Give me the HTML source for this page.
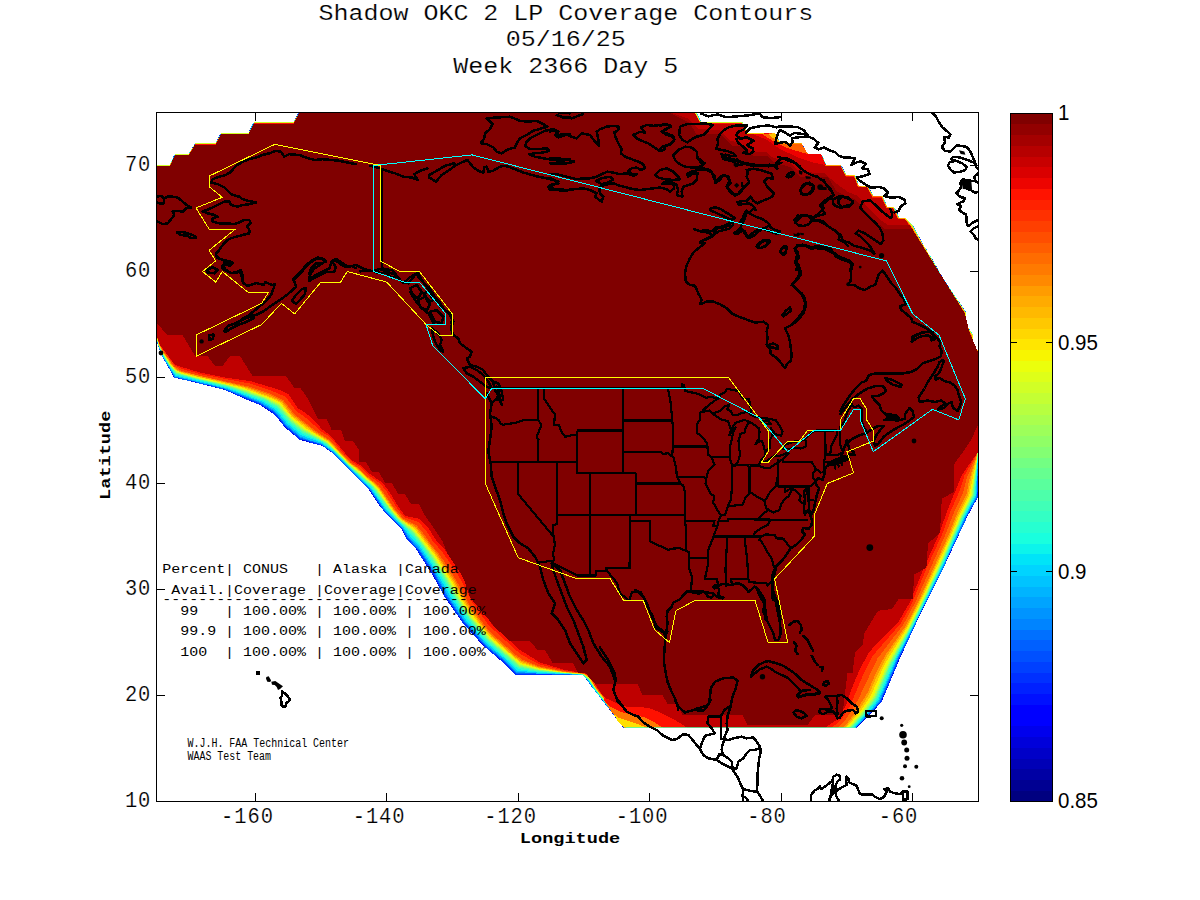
<!DOCTYPE html><html><head><meta charset="utf-8"><title>Shadow OKC 2 LP Coverage Contours</title>
<style>html,body{margin:0;padding:0;background:#fff}svg{display:block}text{font-family:"Liberation Mono","DejaVu Sans Mono",monospace;fill:#000}.s{font-family:"Liberation Sans","DejaVu Sans",sans-serif}</style></head><body>
<svg width="1200" height="900" viewBox="0 0 1200 900">
<rect width="1200" height="900" fill="#fff"/>
<path d="M255.5 801 v-8 M255.5 113 v8 M386.5 801 v-8 M386.5 113 v8 M518.5 801 v-8 M518.5 113 v8 M649.5 801 v-8 M649.5 113 v8 M781.5 801 v-8 M781.5 113 v8 M912.5 801 v-8 M912.5 113 v8 M157 695.5 h8 M978 695.5 h-8 M157 589.5 h8 M978 589.5 h-8 M157 483.5 h8 M978 483.5 h-8 M157 377.5 h8 M978 377.5 h-8 M157 271.5 h8 M978 271.5 h-8 M157 165.5 h8 M978 165.5 h-8 " shape-rendering="crispEdges" stroke="#000" fill="none"/>
<clipPath id="ax"><rect x="156" y="112" width="823" height="690"/></clipPath>
<clipPath id="fc"><rect x="156" y="112" width="823" height="615.8"/></clipPath>
<g clip-path="url(#fc)" shape-rendering="crispEdges">
<path d="M156.0 165.0 L170.0 165.0 L175.0 154.0 L189.0 154.0 L195.0 143.5 L216.0 143.5 L221.0 133.0 L248.5 133.0 L254.0 122.5 L294.0 122.5 L299.0 112.0 L696.0 112.0 L701.0 122.5 L742.5 122.5 L747.5 133.0 L775.0 133.0 L780.0 143.5 L801.5 143.5 L808.0 154.0 L821.0 154.0 L826.0 165.0 L841.0 165.0 L846.5 175.5 L855.0 175.5 L859.0 186.0 L868.0 186.0 L873.0 196.5 L882.5 196.5 L887.5 207.0 L894.0 207.0 L899.0 218.0 L906.0 218.0 L913.0 226.0 L927.5 252.0 L942.5 277.0 L957.5 300.0 L966.0 313.0 L966.0 324.0 L973.0 335.0 L973.0 345.0 L978.0 351.0 L978.0 497.0 L967.6 516.0 L943.6 567.6 L919.5 616.0 L900.5 657.0 L881.6 702.0 L865.0 720.0 L857.5 727.0 L826.0 760.0 L650.0 760.0 L622.7 727.0 L582.7 674.7 L515.0 674.7 L500.0 660.0 L482.5 645.0 L462.5 622.5 L445.0 597.5 L432.5 575.0 L415.0 547.5 L407.0 540.0 L402.0 530.0 L393.0 520.0 L387.0 515.0 L379.0 505.0 L373.0 496.0 L367.0 487.0 L357.0 477.0 L350.0 470.0 L335.0 455.0 L322.5 446.0 L300.0 440.0 L285.0 427.5 L275.0 415.0 L260.0 405.0 L247.5 400.0 L225.0 390.0 L195.0 382.5 L174.0 377.5 L161.0 354.0 L156.0 338.0Z" fill="#0000da"/>
<path d="M825.5 759.7 L702.3 759.5 L651.0 758.5 L626.5 731.5 L609.1 708.5 L601.9 700.5 L595.9 691.5 L591.9 687.5 L586.0 678.5 L582.5 675.2 L515.5 674.5 L500.5 659.6 L492.5 653.6 L486.5 647.6 L485.5 647.6 L462.5 622.5 L458.4 615.5 L455.5 612.5 L451.5 605.5 L444.5 596.5 L432.5 573.5 L419.4 554.5 L418.4 551.5 L406.4 538.5 L402.3 529.5 L383.3 510.5 L369.3 489.5 L331.5 451.8 L320.5 444.7 L317.5 444.7 L316.5 443.7 L313.5 443.7 L305.5 440.6 L299.5 439.5 L283.5 425.6 L279.4 419.5 L272.5 412.5 L258.5 403.6 L256.5 403.6 L248.5 399.6 L246.5 399.6 L239.5 395.7 L237.5 395.7 L230.5 391.7 L228.5 391.7 L222.5 388.8 L219.5 388.8 L214.5 386.8 L211.5 386.8 L210.5 385.8 L199.5 383.8 L194.5 381.8 L187.5 380.8 L186.5 379.8 L182.5 379.8 L177.5 377.8 L174.5 377.8 L161.0 354.5 L155.8 339.5 L155.7 165.5 L156.5 164.7 L169.5 164.7 L171.7 161.5 L173.7 155.5 L175.5 153.7 L188.5 153.7 L195.5 142.7 L215.5 142.7 L219.7 134.5 L221.5 132.7 L248.5 132.7 L252.7 123.5 L254.5 121.7 L293.5 121.7 L297.7 113.5 L299.5 111.7 L694.5 111.7 L697.2 113.5 L701.5 121.7 L742.5 121.8 L747.5 132.7 L774.5 132.7 L776.3 134.5 L780.5 142.7 L801.5 142.7 L806.3 151.5 L808.5 153.7 L820.5 153.7 L822.3 155.5 L824.3 159.5 L824.3 161.5 L826.5 164.7 L840.5 164.7 L842.3 166.5 L846.5 174.7 L854.5 174.7 L855.3 175.5 L857.3 179.5 L858.3 184.5 L859.5 185.7 L867.5 185.7 L869.3 187.5 L873.5 195.7 L882.5 195.7 L887.5 206.7 L893.5 206.7 L895.3 208.5 L899.3 217.5 L905.5 217.7 L913.2 225.5 L924.3 246.5 L926.3 248.5 L928.3 253.5 L930.3 255.5 L943.3 278.5 L966.3 312.5 L966.3 324.5 L973.2 334.5 L973.3 345.5 L978.3 350.5 L977.7 497.5 L965.8 518.5 L965.8 520.5 L945.8 561.5 L945.8 563.5 L915.9 622.5 L915.9 624.5 L898.7 659.5 L896.6 666.5 L890.6 678.5 L890.6 680.5 L888.6 683.5 L888.6 685.5 L885.6 690.5 L885.6 692.5 L882.6 697.5 L881.6 701.5Z" fill="#0030ff" fill-rule="evenodd"/>
<path d="M825.5 759.4 L752.9 759.5 L651.5 756.8 L615.6 717.5 L596.0 691.5 L592.1 687.5 L586.1 678.5 L582.5 675.1 L516.5 673.8 L501.5 659.4 L485.5 646.3 L463.9 622.5 L445.5 595.6 L433.0 572.5 L418.7 550.5 L407.5 538.1 L402.5 529.3 L383.8 510.5 L369.5 489.5 L331.5 451.6 L320.5 444.5 L300.1 438.5 L284.9 425.5 L279.8 418.5 L273.5 412.1 L259.5 403.4 L222.5 388.6 L219.5 388.5 L214.5 386.6 L211.5 386.5 L210.5 385.6 L199.5 383.6 L194.5 381.6 L187.5 380.6 L186.5 379.6 L182.5 379.5 L177.5 377.6 L174.5 377.5 L161.1 354.5 L155.9 339.5 L155.8 165.5 L156.5 164.8 L169.5 164.8 L171.7 161.5 L173.8 155.5 L175.5 153.8 L188.5 153.8 L195.5 142.8 L215.5 142.8 L221.5 132.8 L248.5 132.8 L252.8 123.5 L254.5 121.8 L293.5 121.8 L299.5 111.8 L694.5 111.8 L697.1 113.5 L701.5 121.8 L742.5 121.9 L747.5 132.8 L774.5 132.8 L780.5 142.8 L801.5 142.8 L806.2 151.5 L808.5 153.8 L820.5 153.8 L822.2 155.5 L824.2 159.5 L824.2 161.5 L826.5 164.8 L840.5 164.8 L846.5 174.8 L854.5 174.8 L855.2 175.5 L857.2 179.5 L858.2 184.5 L859.5 185.8 L867.5 185.8 L873.5 195.8 L882.5 195.8 L887.5 206.8 L893.5 206.8 L895.2 208.5 L899.2 217.5 L905.5 217.8 L913.1 225.5 L924.2 246.5 L926.2 248.5 L928.2 253.5 L930.2 255.5 L943.2 278.5 L966.2 312.5 L966.3 324.5 L973.1 334.5 L973.3 345.5 L978.2 350.5 L978.3 452.5 L977.4 497.5 L965.5 518.5 L965.5 520.5 L945.6 561.5 L945.6 563.5 L915.7 622.5 L915.6 624.5 L909.6 635.5 L909.6 637.5 L898.5 659.0 L880.5 701.5 L871.1 712.5 L846.5 737.5 L846.5 738.5Z" fill="#0060ff" fill-rule="evenodd"/>
<path d="M824.5 759.0 L756.5 759.1 L652.5 755.3 L609.7 709.5 L592.2 687.5 L586.3 678.5 L582.5 674.9 L516.5 672.8 L501.6 658.5 L485.8 645.5 L464.5 621.9 L446.6 595.5 L434.0 572.5 L419.5 550.2 L408.1 537.5 L402.7 528.5 L384.8 510.5 L369.6 488.5 L331.9 451.5 L321.5 444.3 L300.5 437.7 L285.5 425.0 L274.2 411.5 L259.5 402.5 L222.5 388.1 L174.5 376.6 L161.3 354.5 L156.0 338.5 L155.9 165.5 L169.5 164.9 L171.8 161.5 L173.9 155.5 L175.5 153.9 L188.5 153.9 L195.5 142.9 L215.5 142.9 L221.5 132.9 L248.5 132.9 L252.9 123.5 L254.5 121.9 L293.5 121.9 L299.5 111.9 L694.5 111.9 L697.0 113.5 L701.5 121.9 L742.5 121.9 L747.5 132.9 L774.5 132.8 L780.5 142.8 L801.5 142.8 L806.2 151.5 L808.5 153.8 L820.5 153.8 L822.2 155.5 L824.2 159.5 L824.2 161.5 L826.5 164.8 L840.5 164.8 L846.5 174.8 L854.5 174.8 L855.2 175.5 L857.2 179.5 L858.2 184.5 L859.5 185.8 L867.5 185.8 L873.5 195.8 L882.5 195.8 L887.5 206.8 L893.5 206.8 L895.2 208.5 L899.2 217.5 L905.5 217.8 L913.0 225.5 L924.2 246.5 L926.1 248.5 L928.2 253.5 L930.2 255.5 L943.2 278.5 L966.1 312.5 L966.2 324.5 L973.1 334.5 L973.2 345.5 L978.2 350.5 L978.2 452.5 L976.9 496.5 L965.5 517.6 L945.0 563.5 L898.0 658.5 L880.3 700.5 L874.8 707.5 L845.5 738.5Z" fill="#0094ff" fill-rule="evenodd"/>
<path d="M823.5 758.5 L756.5 758.6 L678.1 755.5 L653.1 753.5 L639.5 738.9 L620.5 720.8 L609.5 707.8 L605.6 704.5 L586.4 678.5 L582.5 674.8 L536.5 673.5 L516.5 671.7 L502.5 658.1 L486.5 644.9 L465.3 621.5 L458.3 611.5 L447.5 595.0 L434.5 571.5 L418.1 546.5 L409.3 537.5 L403.4 528.5 L385.5 510.5 L370.3 488.5 L332.5 451.3 L321.5 443.7 L310.5 440.6 L300.5 436.5 L286.3 424.5 L274.5 410.6 L259.5 401.7 L226.5 388.8 L175.3 376.5 L161.4 354.5 L156.0 337.5 L156.0 165.5 L169.5 165.0 L171.8 161.5 L174.0 155.5 L175.5 154.0 L188.5 154.0 L195.5 143.0 L215.5 143.0 L221.5 133.0 L248.5 133.0 L253.0 123.5 L254.5 122.0 L293.5 122.0 L299.5 112.0 L694.5 112.0 L697.0 113.5 L701.5 122.0 L742.5 122.0 L747.5 132.9 L774.5 132.9 L780.5 142.9 L801.5 142.9 L806.1 151.5 L808.5 153.9 L820.5 153.9 L822.1 155.5 L824.1 159.5 L824.1 161.5 L826.5 164.9 L840.5 164.9 L846.5 174.9 L855.1 175.5 L857.1 179.5 L858.1 184.5 L859.5 185.9 L867.5 185.9 L873.5 195.9 L882.5 195.9 L887.5 206.9 L893.5 206.9 L895.1 208.5 L899.1 217.5 L905.5 217.9 L912.9 225.5 L924.1 246.5 L926.0 248.5 L928.1 253.5 L930.1 255.5 L943.1 278.5 L966.0 312.5 L966.2 324.5 L973.0 334.5 L973.2 345.5 L978.1 350.5 L978.2 452.5 L976.4 496.5 L964.9 517.5 L944.8 562.5 L897.2 658.5 L879.4 700.5 L874.5 706.8 L844.8 738.5 L825.5 757.7Z" fill="#00c4ff" fill-rule="evenodd"/>
<path d="M812.5 758.5 L756.5 757.9 L678.5 753.4 L654.5 750.9 L641.5 737.5 L617.7 716.5 L602.7 700.5 L592.7 687.5 L589.5 682.0 L582.5 674.7 L540.5 672.9 L517.5 670.6 L503.5 657.4 L485.8 642.5 L466.5 620.7 L452.8 600.5 L435.6 570.5 L418.9 545.5 L410.4 536.5 L403.7 527.5 L385.9 509.5 L370.5 487.6 L332.5 450.5 L321.5 442.7 L301.5 435.4 L287.5 423.7 L275.5 409.5 L262.5 401.8 L226.5 388.0 L175.3 375.5 L161.9 354.5 L156.0 337.5 L156.0 165.5 L169.5 165.0 L175.5 154.0 L188.5 154.0 L195.5 143.0 L215.5 143.0 L221.5 133.0 L248.5 133.0 L254.5 122.0 L293.5 122.0 L299.5 112.0 L694.5 112.0 L696.9 113.5 L700.0 120.5 L701.5 122.0 L742.5 122.1 L747.5 133.0 L774.5 133.0 L780.5 142.9 L801.5 143.0 L806.1 151.5 L808.5 153.9 L820.5 153.9 L822.1 155.5 L824.1 159.5 L824.1 161.5 L826.5 164.9 L840.5 164.9 L846.5 174.9 L855.0 175.5 L857.0 179.5 L858.1 184.5 L859.5 185.9 L867.5 186.0 L873.5 195.9 L882.5 196.0 L887.5 206.9 L893.5 207.0 L895.0 208.5 L899.0 217.5 L905.5 218.0 L912.8 225.5 L924.0 246.5 L926.0 248.5 L928.1 253.5 L930.0 255.5 L943.1 278.5 L966.0 312.5 L966.1 324.5 L972.9 334.5 L973.1 345.5 L978.1 350.5 L978.1 452.5 L975.7 495.5 L964.2 517.5 L943.2 564.5 L908.0 636.5 L896.3 658.5 L878.5 699.8 L873.5 706.5 L844.5 737.8 L824.5 757.5Z" fill="#0cf4eb" fill-rule="evenodd"/>
<path d="M817.5 757.6 L780.5 758.0 L756.5 757.2 L679.5 751.3 L656.5 748.1 L643.0 735.5 L618.5 715.8 L603.4 700.5 L589.5 681.2 L582.5 674.6 L540.5 672.1 L518.5 669.2 L487.5 642.1 L475.9 629.5 L460.6 609.5 L436.8 569.5 L419.9 544.5 L405.1 527.5 L396.5 519.7 L387.2 509.5 L371.7 487.5 L347.9 465.5 L333.5 450.5 L322.5 442.2 L302.5 433.9 L288.5 422.5 L276.5 408.3 L262.9 400.5 L226.5 387.1 L175.8 374.5 L169.6 366.5 L163.0 355.5 L158.4 345.5 L156.1 337.5 L156.1 165.5 L169.5 165.1 L175.5 154.1 L188.5 154.1 L195.5 143.1 L215.5 143.1 L221.5 133.1 L248.5 133.1 L254.5 122.1 L293.5 122.1 L299.5 112.1 L694.5 112.1 L696.8 113.5 L699.9 120.5 L701.5 122.1 L742.5 122.2 L747.5 133.1 L774.5 133.0 L780.5 143.0 L801.5 143.1 L806.0 151.5 L808.5 154.0 L820.5 154.0 L824.0 159.5 L825.0 163.5 L826.5 165.0 L840.5 165.0 L846.5 175.0 L854.9 175.5 L856.9 179.5 L858.0 184.5 L859.5 186.0 L867.5 186.1 L873.5 196.0 L882.5 196.1 L887.5 207.0 L893.5 207.1 L894.9 208.5 L898.9 217.5 L905.5 218.1 L912.7 225.5 L923.9 246.5 L925.9 248.5 L928.0 253.5 L929.9 255.5 L943.0 278.5 L965.9 312.5 L966.1 324.5 L972.8 334.5 L973.1 345.5 L978.0 350.5 L978.1 452.5 L974.8 495.5 L963.5 517.3 L943.4 562.5 L913.8 623.5 L895.7 657.5 L877.3 699.5 L856.7 723.5 L824.5 756.4Z" fill="#33ffc4" fill-rule="evenodd"/>
<path d="M824.2 755.5 L810.5 757.4 L780.5 757.5 L756.5 756.5 L740.5 754.2 L680.5 749.1 L657.5 745.1 L643.5 732.7 L619.5 715.4 L607.5 704.2 L600.5 696.5 L589.5 680.7 L582.5 674.5 L537.5 671.1 L518.5 667.4 L488.5 641.2 L477.0 628.5 L461.8 608.5 L438.5 569.2 L420.8 543.5 L407.6 528.5 L399.5 521.5 L387.6 508.5 L372.5 487.1 L348.5 465.3 L333.5 449.6 L323.0 441.5 L303.4 432.5 L290.5 422.3 L277.5 407.0 L263.9 399.5 L227.5 386.5 L176.5 374.0 L170.2 366.5 L163.3 355.5 L158.5 345.5 L156.2 337.5 L156.2 165.5 L169.5 165.2 L175.5 154.2 L188.5 154.2 L195.5 143.2 L215.5 143.2 L221.5 133.2 L248.5 133.2 L254.5 122.2 L293.5 122.2 L299.5 112.2 L694.5 112.2 L696.7 113.5 L699.8 120.5 L701.5 122.2 L742.5 122.3 L742.8 124.5 L747.5 133.2 L774.5 133.1 L780.5 143.1 L801.5 143.1 L805.9 151.5 L808.5 154.1 L820.5 154.1 L823.9 159.5 L824.9 163.5 L826.5 165.1 L840.5 165.1 L846.5 175.1 L854.9 175.5 L856.9 179.5 L857.9 184.5 L859.5 186.1 L867.5 186.1 L873.5 196.1 L882.5 196.1 L887.5 207.1 L893.5 207.1 L898.9 217.5 L905.5 218.1 L912.7 225.5 L923.9 246.5 L925.8 248.5 L927.9 253.5 L929.9 255.5 L942.9 278.5 L965.8 312.5 L966.0 324.5 L972.7 334.5 L973.0 345.5 L977.9 350.5 L978.0 452.5 L974.0 495.5 L963.1 516.5 L942.2 563.5 L913.1 623.5 L888.8 669.5 L876.5 698.5 L866.4 711.5 L842.5 737.5Z" fill="#5aff9d" fill-rule="evenodd"/>
<path d="M815.5 756.6 L780.5 757.0 L756.5 755.8 L740.5 753.3 L680.5 747.6 L658.5 743.3 L644.5 731.3 L620.5 715.2 L604.5 701.0 L593.2 686.5 L589.5 680.2 L583.0 674.5 L541.5 670.9 L519.5 666.7 L488.2 639.5 L470.1 618.5 L456.2 597.5 L443.7 575.5 L432.1 557.5 L422.1 543.5 L412.5 532.0 L400.5 521.8 L393.7 514.5 L372.9 486.5 L348.5 464.7 L334.1 449.5 L327.2 443.5 L303.5 431.3 L291.2 421.5 L278.5 406.5 L263.9 398.5 L227.5 385.9 L197.5 379.1 L176.5 373.1 L170.7 366.5 L163.6 355.5 L158.7 345.5 L156.2 337.5 L156.2 165.5 L169.5 165.2 L175.5 154.2 L188.5 154.2 L195.5 143.2 L215.5 143.2 L221.5 133.2 L248.5 133.2 L254.5 122.2 L293.5 122.2 L299.5 112.2 L694.5 112.2 L696.6 113.5 L699.8 120.5 L701.5 122.2 L742.5 122.4 L742.8 124.5 L747.5 133.2 L774.5 133.1 L780.5 143.1 L801.5 143.2 L805.9 151.5 L808.5 154.1 L820.5 154.1 L823.9 159.5 L824.9 163.5 L826.5 165.1 L840.5 165.1 L846.5 175.1 L854.8 175.5 L856.8 179.5 L857.9 184.5 L859.5 186.1 L867.5 186.2 L873.5 196.1 L882.5 196.2 L882.9 198.5 L887.5 207.1 L893.5 207.2 L898.8 217.5 L905.5 218.2 L912.6 225.5 L923.8 246.5 L925.7 248.5 L927.9 253.5 L929.8 255.5 L942.9 278.5 L965.7 312.5 L966.0 324.5 L972.6 334.5 L973.0 345.5 L977.9 350.5 L978.0 452.5 L973.2 495.5 L962.3 516.5 L941.6 563.5 L921.8 604.5 L909.9 628.5 L888.2 668.5 L875.5 698.1 L868.6 707.5 L854.8 723.5 L823.5 755.2Z" fill="#83ff73" fill-rule="evenodd"/>
<path d="M808.5 756.5 L780.5 756.5 L757.5 755.1 L681.5 746.5 L659.5 741.8 L643.0 728.5 L620.5 714.5 L604.5 700.7 L593.5 686.5 L588.5 678.5 L583.5 674.5 L537.5 669.9 L519.5 665.7 L488.5 638.7 L470.5 617.6 L463.5 607.5 L444.5 575.0 L433.1 557.5 L413.2 531.5 L401.0 521.5 L394.4 514.5 L373.5 486.4 L348.8 464.5 L327.5 443.1 L304.0 430.5 L291.5 420.6 L278.5 405.2 L264.5 398.0 L228.1 385.5 L197.5 378.7 L176.5 372.5 L171.0 366.5 L163.9 355.5 L158.8 345.5 L156.3 337.5 L156.3 165.5 L169.5 165.3 L175.5 154.3 L188.5 154.3 L195.5 143.3 L215.5 143.3 L221.5 133.3 L248.5 133.3 L254.5 122.3 L293.5 122.3 L299.5 112.3 L694.5 112.3 L696.5 113.5 L699.7 120.5 L701.5 122.3 L742.5 122.5 L742.7 124.5 L747.5 133.3 L774.5 133.2 L780.5 143.2 L801.5 143.3 L805.8 151.5 L808.5 154.2 L820.5 154.2 L823.8 159.5 L824.8 163.5 L826.5 165.2 L840.5 165.2 L846.5 175.2 L854.7 175.5 L856.7 179.5 L857.8 184.5 L859.5 186.2 L867.5 186.3 L873.5 196.2 L882.5 196.3 L882.8 198.5 L887.5 207.2 L893.5 207.3 L898.7 217.5 L899.5 218.2 L905.5 218.3 L912.4 225.5 L923.7 246.5 L925.7 248.5 L927.8 253.5 L929.7 255.5 L942.8 278.5 L965.7 312.5 L965.9 324.5 L972.5 334.5 L972.9 345.5 L977.8 350.5 L977.9 452.5 L972.6 494.5 L961.7 516.5 L941.0 563.5 L920.8 605.5 L905.5 635.5 L890.6 661.5 L874.8 697.5 L865.2 710.5 L851.2 726.5 L823.5 754.3Z" fill="#aaff4d" fill-rule="evenodd"/>
<path d="M814.5 755.6 L780.5 756.0 L756.5 754.2 L684.5 745.7 L660.5 740.2 L644.1 727.5 L620.5 713.6 L604.6 700.5 L595.2 688.5 L588.8 678.5 L583.5 674.3 L562.5 672.8 L538.3 669.5 L519.5 664.6 L489.4 638.5 L471.5 617.5 L464.5 607.5 L445.3 574.5 L433.6 556.5 L413.5 530.5 L397.7 517.5 L389.2 507.5 L377.0 489.5 L373.5 485.7 L349.4 464.5 L327.5 442.5 L304.5 429.7 L292.5 420.3 L279.5 404.9 L268.5 399.0 L247.5 391.0 L228.5 385.1 L197.5 378.2 L177.2 372.5 L171.4 366.5 L164.1 355.5 L159.0 345.5 L156.4 337.5 L156.4 165.5 L169.5 165.4 L175.5 154.4 L188.5 154.4 L195.5 143.4 L215.5 143.4 L221.5 133.4 L248.5 133.4 L254.5 122.4 L293.5 122.4 L299.5 112.4 L694.5 112.4 L696.3 113.5 L699.6 120.5 L701.5 122.4 L742.1 122.5 L747.5 133.4 L774.5 133.3 L778.7 141.5 L780.5 143.3 L801.5 143.3 L805.7 151.5 L808.5 154.3 L820.5 154.3 L823.7 159.5 L824.7 163.5 L826.5 165.3 L840.5 165.3 L844.7 173.5 L846.5 175.3 L854.7 175.5 L856.7 179.5 L857.7 184.5 L859.5 186.3 L867.5 186.3 L873.5 196.3 L882.5 196.3 L882.7 198.5 L887.5 207.3 L893.5 207.3 L898.7 217.5 L899.5 218.3 L905.5 218.3 L912.1 225.5 L942.7 278.5 L965.6 312.5 L965.9 324.5 L972.5 334.9 L972.9 345.5 L977.7 350.5 L977.5 457.1 L971.5 496.0 L961.5 515.5 L940.5 563.2 L920.5 605.1 L908.8 628.5 L886.6 667.5 L874.2 696.5 L860.0 715.5 L841.5 735.7 L823.4 753.5Z" fill="#d1ff26" fill-rule="evenodd"/>
<path d="M822.5 753.1 L809.5 755.5 L780.5 755.5 L756.5 753.5 L685.5 744.6 L660.5 738.5 L644.5 726.0 L626.5 716.8 L618.5 711.5 L604.9 700.5 L595.4 688.5 L589.2 678.5 L583.5 674.2 L562.5 672.5 L541.5 669.5 L520.5 664.2 L489.5 637.5 L472.5 617.3 L464.9 606.5 L451.3 582.5 L434.5 556.3 L414.5 530.3 L398.3 517.5 L389.9 507.5 L376.5 487.9 L357.8 470.5 L349.5 464.1 L327.5 441.9 L305.5 429.3 L292.5 419.0 L279.5 403.7 L268.5 398.0 L242.5 388.6 L181.5 373.5 L175.5 370.4 L170.4 364.5 L161.6 350.5 L158.5 343.7 L156.2 334.5 L156.5 165.5 L169.5 165.5 L175.5 154.5 L188.5 154.5 L195.5 143.5 L215.5 143.5 L221.5 133.5 L248.5 133.5 L254.5 122.5 L293.5 122.5 L299.5 112.5 L694.5 112.5 L696.0 113.5 L700.0 121.5 L701.5 122.5 L741.7 122.5 L747.5 133.4 L774.5 133.3 L778.7 141.5 L780.5 143.3 L801.5 143.4 L805.7 151.5 L808.5 154.3 L820.5 154.3 L823.7 159.5 L824.7 163.5 L826.5 165.3 L840.5 165.3 L844.7 173.5 L846.5 175.3 L854.6 175.5 L857.7 184.5 L859.5 186.3 L867.5 186.4 L871.7 194.5 L873.5 196.3 L882.5 196.4 L882.7 198.5 L887.5 207.3 L893.5 207.4 L898.6 217.5 L899.5 218.3 L905.5 218.4 L911.8 225.5 L942.7 278.5 L965.5 312.5 L965.8 324.5 L972.5 335.5 L972.8 345.5 L977.7 350.5 L977.5 456.5 L970.5 496.2 L960.6 515.5 L940.5 561.6 L919.5 605.8 L908.5 627.6 L888.9 660.5 L872.8 696.5 L862.5 711.1 L848.5 727.4Z" fill="#f8f500" fill-rule="evenodd"/>
<path d="M815.5 753.6 L809.5 754.4 L780.5 754.5 L756.5 752.8 L685.5 743.1 L661.5 736.6 L645.2 724.5 L619.5 711.5 L605.3 700.5 L597.8 691.5 L588.7 677.5 L583.5 674.0 L562.5 672.2 L538.5 668.4 L520.5 662.9 L490.5 637.1 L480.5 625.8 L466.2 606.5 L452.5 582.3 L435.3 555.5 L414.5 528.7 L402.5 520.8 L399.0 517.5 L390.5 507.2 L377.5 487.9 L358.5 470.5 L349.5 463.6 L328.5 442.0 L305.5 427.9 L291.5 416.5 L280.5 403.0 L270.5 397.9 L242.5 387.7 L181.5 372.9 L175.5 369.7 L170.5 364.2 L161.8 350.5 L158.6 343.5 L156.2 334.5 L156.5 165.6 L169.5 165.6 L175.5 154.6 L188.5 154.6 L195.5 143.6 L215.5 143.6 L221.5 133.6 L248.5 133.6 L254.5 122.6 L293.5 122.6 L299.5 112.6 L694.5 112.6 L696.4 114.5 L699.8 121.5 L701.5 122.6 L741.5 122.6 L747.5 133.5 L774.5 133.4 L778.6 141.5 L780.5 143.4 L801.5 143.5 L805.6 151.5 L808.5 154.4 L820.5 154.4 L823.6 159.5 L824.6 163.5 L826.5 165.4 L840.5 165.4 L844.6 173.5 L846.5 175.4 L854.5 175.5 L857.6 184.5 L859.5 186.4 L867.5 186.5 L871.6 194.5 L873.5 196.4 L882.5 196.5 L882.6 198.5 L887.5 207.4 L893.5 207.5 L898.5 217.5 L899.5 218.4 L905.5 218.5 L911.5 225.5 L942.6 278.5 L965.3 312.5 L965.8 324.5 L972.2 335.5 L972.8 345.5 L977.6 350.5 L977.5 455.0 L969.2 495.5 L959.5 514.8 L950.6 536.5 L919.1 604.5 L907.3 627.5 L884.6 664.5 L870.9 695.5 L861.6 709.5 L848.5 725.5 L822.5 751.1Z" fill="#ffc800" fill-rule="evenodd"/>
<path d="M821.5 750.0 L809.5 753.4 L780.5 753.5 L757.5 751.9 L726.5 748.2 L677.8 739.5 L662.5 734.4 L645.5 722.4 L619.3 710.5 L604.7 699.5 L596.0 688.5 L589.4 677.5 L583.5 673.8 L563.5 672.0 L538.5 667.7 L521.5 662.1 L514.0 656.5 L491.5 636.5 L481.7 625.5 L467.0 605.5 L453.6 581.5 L436.1 554.5 L415.5 527.9 L402.0 519.5 L390.9 506.5 L378.2 487.5 L358.5 469.6 L350.1 463.5 L328.5 441.1 L314.2 432.5 L294.5 417.6 L290.5 413.9 L281.8 402.5 L276.8 399.5 L248.5 388.5 L228.5 383.2 L198.5 376.8 L178.5 371.3 L175.5 369.0 L170.5 363.6 L162.1 350.5 L159.5 345.5 L156.3 334.5 L156.5 165.8 L169.5 165.8 L175.5 154.8 L188.5 154.8 L195.5 143.8 L215.5 143.8 L221.5 133.8 L248.5 133.8 L254.5 122.8 L293.5 122.8 L299.5 112.8 L694.5 112.8 L696.2 114.5 L699.5 121.5 L701.5 122.8 L741.5 122.8 L747.5 133.7 L774.5 133.5 L778.6 141.5 L780.5 143.4 L801.2 143.5 L805.6 151.5 L808.5 154.4 L820.5 154.4 L823.6 159.5 L824.6 163.5 L826.5 165.4 L840.5 165.4 L844.6 173.5 L846.5 175.4 L854.5 175.8 L858.5 185.7 L859.5 186.4 L867.5 186.7 L871.6 194.5 L873.5 196.4 L882.2 196.5 L886.6 206.5 L887.5 207.4 L893.5 207.7 L898.3 217.5 L899.5 218.4 L905.2 218.5 L911.2 225.5 L942.6 278.5 L965.0 312.5 L965.7 324.5 L967.6 326.5 L971.9 335.5 L972.7 345.5 L977.6 350.5 L977.7 452.5 L970.7 479.5 L968.0 494.5 L958.1 514.5 L949.5 535.9 L918.0 604.5 L906.5 626.7 L887.4 655.5 L877.6 674.5 L869.0 694.5 L859.5 709.5 L847.5 724.7Z" fill="#ff9c00" fill-rule="evenodd"/>
<path d="M813.5 751.6 L808.5 752.4 L780.5 752.4 L756.5 750.7 L726.5 747.0 L679.5 738.1 L663.5 732.3 L645.5 720.3 L619.5 709.9 L605.1 699.5 L598.3 691.5 L589.9 677.5 L586.5 675.1 L583.5 673.7 L563.5 671.7 L538.5 667.0 L521.5 660.6 L514.5 655.5 L492.1 635.5 L484.7 627.5 L467.8 604.5 L454.6 580.5 L436.9 553.5 L416.5 527.3 L413.5 524.9 L405.5 521.2 L399.9 516.5 L391.9 506.5 L378.4 486.5 L366.5 476.7 L358.5 468.8 L350.5 463.2 L328.5 440.2 L315.5 432.1 L293.5 415.2 L282.5 401.4 L268.5 394.4 L248.5 387.5 L181.5 371.6 L178.6 370.5 L173.5 366.6 L162.3 350.5 L159.0 343.5 L156.3 334.5 L156.5 166.0 L169.5 166.0 L175.5 155.0 L188.5 155.0 L195.5 144.0 L215.5 144.0 L221.5 134.0 L248.5 134.0 L254.5 123.0 L293.5 123.0 L299.5 113.0 L694.5 113.0 L700.5 122.7 L741.5 123.0 L747.5 133.9 L774.5 133.6 L778.4 141.5 L780.4 143.5 L800.5 143.5 L802.5 145.5 L805.5 151.5 L808.4 154.5 L820.5 154.5 L823.5 159.5 L824.5 163.5 L826.4 165.5 L840.5 165.5 L844.5 173.5 L846.4 175.5 L853.5 175.5 L854.5 176.5 L858.5 186.2 L867.5 187.2 L872.5 196.2 L881.5 196.5 L887.4 207.5 L893.5 208.2 L897.8 217.5 L899.5 218.5 L904.5 218.5 L910.8 225.5 L942.5 278.5 L964.7 312.5 L965.7 324.5 L967.5 326.5 L971.7 335.5 L972.7 345.5 L977.5 350.5 L977.7 452.5 L969.0 480.5 L966.5 494.1 L957.0 513.5 L948.5 535.1 L917.5 603.3 L905.5 626.2 L885.1 655.5 L876.1 672.5 L867.5 692.9 L854.6 713.5 L846.5 723.8 L820.8 748.5Z" fill="#ff6c00" fill-rule="evenodd"/>
<path d="M810.5 749.7 L756.5 749.5 L725.5 745.5 L683.5 737.1 L664.5 729.7 L645.5 718.0 L620.5 709.5 L605.5 699.6 L594.5 685.5 L590.4 677.5 L584.5 673.7 L563.5 671.2 L539.5 666.4 L522.4 659.5 L515.4 654.5 L493.0 634.5 L485.6 626.5 L469.5 604.5 L456.4 580.5 L443.5 560.5 L438.0 552.5 L431.5 545.2 L425.2 535.5 L416.8 525.5 L403.2 518.5 L394.5 508.5 L378.7 485.5 L367.4 476.5 L359.4 468.5 L350.5 462.5 L329.5 439.9 L317.5 432.2 L294.5 414.3 L283.5 400.3 L268.5 393.0 L249.5 386.6 L198.6 375.5 L180.8 370.5 L174.3 366.5 L162.5 350.0 L159.1 343.5 L156.4 334.5 L156.5 166.1 L169.5 166.1 L171.1 164.5 L172.5 160.1 L175.5 155.1 L188.5 155.1 L195.5 144.1 L215.5 144.1 L221.5 134.1 L248.5 134.1 L254.5 123.1 L293.5 123.1 L299.5 113.1 L694.5 113.1 L700.5 123.0 L741.5 123.1 L745.9 132.5 L747.5 134.1 L774.5 133.9 L779.5 143.7 L800.5 143.8 L807.5 154.7 L820.5 154.8 L825.5 165.7 L840.5 165.8 L845.5 175.7 L854.2 176.5 L857.3 185.5 L858.5 186.7 L866.5 186.8 L872.5 196.7 L881.5 196.8 L886.3 207.5 L892.5 207.8 L896.2 213.5 L897.3 217.5 L898.5 218.7 L904.5 218.8 L910.5 225.9 L930.3 259.5 L964.3 312.5 L965.6 324.5 L971.5 336.4 L972.6 345.5 L977.2 350.5 L977.6 452.5 L967.0 477.5 L962.8 493.5 L953.9 512.5 L945.5 534.5 L915.2 602.5 L903.4 624.5 L877.5 658.5 L857.7 700.5 L846.5 718.5 L840.3 725.5 L831.6 732.5 L819.5 744.6Z" fill="#ff3f00" fill-rule="evenodd"/>
<path d="M817.5 741.0 L808.5 747.2 L757.5 747.1 L727.5 742.6 L685.5 732.2 L647.5 712.7 L621.5 707.5 L608.5 699.6 L606.5 699.3 L600.9 693.5 L596.8 687.5 L590.5 675.6 L584.5 673.1 L563.5 670.4 L539.5 664.3 L520.9 654.5 L488.9 625.5 L472.5 602.5 L459.5 577.5 L453.5 568.2 L441.5 550.8 L433.8 542.5 L425.3 529.5 L418.5 522.2 L404.5 517.2 L398.7 510.5 L385.9 490.5 L380.2 483.5 L368.5 475.1 L360.5 467.1 L351.5 461.5 L344.5 454.5 L333.9 441.5 L327.5 435.5 L321.0 431.5 L307.5 418.9 L296.5 411.4 L285.5 396.8 L270.5 390.2 L250.5 383.7 L200.5 374.2 L182.5 369.1 L174.9 365.5 L160.5 345.9 L156.4 334.5 L156.5 166.3 L169.5 166.3 L171.3 164.5 L172.5 160.3 L175.5 155.3 L188.5 155.3 L192.3 150.5 L195.5 144.3 L215.5 144.3 L217.3 142.5 L221.5 134.3 L248.5 134.3 L254.5 123.3 L293.5 123.3 L295.3 121.5 L299.5 113.3 L694.5 113.3 L700.5 123.2 L741.5 123.3 L745.7 132.5 L747.5 134.3 L774.5 134.2 L779.5 144.1 L800.5 144.2 L807.5 155.1 L820.5 155.2 L825.5 166.1 L840.5 166.2 L845.5 176.1 L853.8 176.5 L856.9 185.5 L858.5 187.1 L866.5 187.2 L872.5 197.1 L881.5 197.2 L886.5 208.1 L892.5 208.2 L895.8 213.5 L896.9 217.5 L898.5 219.1 L904.5 219.2 L906.9 221.5 L928.8 256.5 L929.9 259.5 L933.8 264.5 L934.9 267.5 L938.8 272.5 L939.9 275.5 L943.8 280.5 L944.9 283.5 L963.9 312.5 L965.6 324.5 L971.8 338.5 L972.6 345.5 L976.8 350.5 L977.6 452.5 L964.5 475.5 L959.3 491.5 L950.4 511.5 L942.5 533.5 L926.9 567.5 L910.9 605.5 L900.6 623.5 L873.0 655.5 L863.3 674.5 L850.2 705.5 L843.5 716.5 L837.5 723.3 L829.5 729.0Z" fill="#ff1300" fill-rule="evenodd"/>
<path d="M156.0 166.0 L170.0 166.0 L175.0 155.0 L189.0 155.0 L195.0 144.5 L216.0 144.5 L221.0 134.0 L248.5 134.0 L254.0 123.5 L294.0 123.5 L299.0 113.0 L695.0 113.0 L700.0 123.5 L742.0 123.5 L747.0 134.0 L774.5 134.0 L779.5 144.5 L801.0 144.5 L807.5 155.0 L820.5 155.0 L825.5 166.0 L840.5 166.0 L846.0 176.5 L854.0 176.5 L858.0 187.0 L867.0 187.0 L872.0 197.5 L881.5 197.5 L886.5 208.0 L893.0 208.0 L898.0 219.0 L905.0 219.0 L964.0 313.0 L968.0 330.5 L977.0 351.0 L978.0 452.0 L962.0 474.7 L948.0 509.0 L938.0 536.7 L924.0 567.6 L910.0 602.0 L898.0 622.7 L884.0 636.5 L876.0 644.0 L868.0 654.0 L859.0 671.0 L852.0 688.0 L846.0 705.0 L838.0 719.0 L826.0 727.0 L808.0 745.0 L760.0 745.0 L730.0 740.0 L687.0 727.5 L680.0 723.0 L673.3 719.0 L665.3 715.0 L656.7 711.0 L648.0 707.7 L634.7 707.0 L622.7 706.3 L613.3 701.7 L604.7 697.7 L600.0 691.7 L595.3 684.3 L591.3 675.5 L583.0 673.0 L565.0 670.0 L540.0 662.5 L520.0 650.0 L492.5 625.0 L475.0 600.0 L462.5 575.0 L445.0 550.0 L436.0 540.0 L429.0 529.0 L420.0 519.0 L405.0 516.0 L398.0 506.0 L390.0 493.0 L383.0 483.0 L370.0 474.0 L360.0 465.0 L350.0 459.0 L345.0 453.0 L336.7 443.0 L331.7 436.7 L321.7 429.0 L315.0 421.0 L305.0 412.5 L297.5 408.0 L288.3 394.0 L280.0 390.0 L250.0 381.0 L225.0 377.5 L200.0 372.5 L175.0 365.0 L160.0 345.0 L156.0 334.0Z" fill="#bf0000"/>
<path d="M156.0 324.0 L157.5 324.0 L167.5 335.0 L182.5 335.0 L195.0 356.0 L207.5 356.0 L215.0 366.0 L222.5 366.0 L230.0 356.0 L240.0 356.0 L252.5 376.0 L286.0 376.0 L294.0 387.5 L300.0 387.5 L307.5 398.0 L318.0 419.0 L326.7 419.0 L331.7 430.0 L341.0 430.0 L345.0 441.0 L353.0 441.0 L359.0 450.0 L359.0 462.0 L366.0 462.0 L372.0 472.0 L379.0 472.0 L385.0 483.0 L392.0 483.0 L398.0 494.0 L405.0 494.0 L411.0 504.0 L419.0 504.0 L424.0 514.0 L435.0 530.0 L442.5 541.0 L447.5 554.0 L460.0 572.5 L465.0 582.5 L470.0 597.5 L485.0 615.0 L495.0 627.5 L510.0 641.0 L530.0 641.0 L537.5 650.0 L545.0 650.0 L552.5 662.5 L572.5 662.5 L577.5 672.5 L585.0 672.5 L595.0 684.0 L637.5 684.0 L642.5 695.0 L662.5 695.0 L667.5 704.0 L677.5 704.0 L682.5 715.0 L742.5 715.0 L747.5 725.0 L807.5 725.0 L815.0 715.0 L842.5 715.0 L847.5 672.5 L852.5 672.5 L855.0 652.5 L862.5 645.0 L864.4 633.0 L878.0 610.7 L892.0 609.0 L898.8 598.6 L912.6 598.6 L914.3 574.5 L926.4 567.6 L928.0 543.6 L940.0 533.0 L941.8 498.8 L953.9 492.0 L953.9 464.4 L964.0 450.6 L971.0 440.0 L978.0 425.0 L978.0 352.0 L969.0 331.0 L965.0 313.5 L912.0 228.5 L884.5 228.5 L876.0 222.0 L869.0 215.0 L855.0 199.0 L848.0 196.7 L836.7 191.7 L828.0 177.0 L800.0 177.0 L790.0 167.0 L773.0 162.0 L768.0 156.0 L754.0 156.0 L740.0 146.0 L732.0 146.0 L720.0 134.0 L696.0 134.0 L690.0 123.0 L670.0 113.0 L299.0 113.0 L294.0 123.5 L254.0 123.5 L248.5 134.0 L221.0 134.0 L216.0 144.5 L195.0 144.5 L189.0 155.0 L175.0 155.0 L170.0 166.0 L156.0 166.0Z" fill="#800000"/>
<path d="M604.7 697.7 L613.3 701.7 L622.7 706.3 L634.7 707.0 L648.0 707.7 L656.7 711.0 L665.3 715.0 L673.3 719.0 L680.0 723.0 L687.0 728.0 L663.5 728.0 L653.3 721.7 L645.3 717.7 L634.7 715.0 L624.0 713.0 L616.0 709.7 L610.7 707.0 L604.0 700.3Z" fill="#ff1000"/>
<path d="M604.0 700.3 L610.7 707.0 L616.0 709.7 L624.0 713.0 L634.7 715.0 L645.3 717.7 L653.3 721.7 L663.5 728.0 L647.5 728.0 L634.7 723.0 L626.7 720.3 L618.7 717.7 L613.3 713.7 L611.0 711.0Z" fill="#ff7800"/>
<path d="M611.0 711.0 L613.3 713.7 L618.7 717.7 L626.7 720.3 L634.7 723.0 L647.5 728.0 L624.5 728.0 L621.3 725.0 L617.3 720.3 L613.0 713.5Z" fill="#ffe000"/>
<path d="M650.0 113.0 L670.0 113.0 L690.0 123.0 L696.0 134.0 L720.0 134.0 L732.0 146.0 L740.0 146.0 L754.0 156.0 L768.0 156.0 L773.0 162.0 L790.0 167.0 L800.0 177.0 L828.0 177.0 L836.7 191.7 L848.0 196.7 L855.0 199.0 L869.0 215.0 L876.0 222.0 L884.5 228.5 L912.0 228.5 L910.0 225.0 L888.0 225.0 L879.0 219.0 L872.0 212.0 L858.0 196.0 L848.0 192.0 L837.0 184.0 L824.0 173.0 L800.0 172.0 L790.0 163.0 L771.0 157.0 L766.0 152.0 L752.0 152.0 L738.0 142.0 L730.0 141.0 L719.0 130.0 L698.0 129.0 L689.0 119.0 L672.0 113.0Z" fill="#9f0000"/>
<path d="M753.0 134.0 L767.0 140.0 L780.0 149.0 L797.0 157.0 L813.0 162.5 L826.0 165.0 L821.0 154.0 L808.0 154.0 L801.5 143.5 L780.0 143.5 L775.0 133.0Z" fill="#ef0000"/>
<path d="M762.0 134.0 L773.0 141.0 L787.0 148.0 L802.0 152.5 L808.0 154.0 L801.5 143.5 L780.0 143.5 L775.0 133.0Z" fill="#ff6000"/>
<path d="M768.0 134.0 L777.0 141.0 L780.0 143.5 L775.0 133.0Z" fill="#ffc000"/>
<path d="M626 727.5H856" stroke="#50ffb0" stroke-width="1" fill="none"/>
</g>
<g clip-path="url(#ax)" fill="none" stroke="#000" stroke-width="2.5" stroke-linejoin="round" stroke-linecap="round" shape-rendering="crispEdges">
<path d="M616.7 700.0 L621.7 705.0 L626.7 711.7 L633.3 715.0 L638.3 716.7 L643.3 722.5 L650.0 726.7 L656.7 730.0 L663.3 735.8 L671.7 740.0 L676.7 739.2 L683.3 734.2 L688.3 735.0 L693.3 740.8 L700.0 749.2 L703.3 755.0 L708.3 758.3 L716.7 760.0 L723.3 764.2 L731.7 768.3 L735.0 773.3 L738.3 778.3 L740.8 785.0 L743.3 789.2 L742.5 795.8 L743.3 800.0"/>
<path d="M745.0 796.7 L747.5 800.0"/>
<path d="M675.0 700.0 L678.3 706.7 L685.0 712.5 L693.3 710.0 L703.3 710.8 L706.7 706.7 L710.0 701.7 L710.8 700.0"/>
<path d="M731.7 700.0 L730.8 705.0 L729.2 710.0 L727.5 716.7 L726.7 723.3 L727.5 730.0 L725.0 735.8 L723.3 739.2 L728.3 740.0 L733.3 738.3 L741.7 736.7 L746.7 738.3 L753.3 737.5 L756.7 741.7 L760.0 746.7 L760.8 751.7 L759.2 758.3 L758.3 766.7 L757.5 775.0 L757.5 783.3 L756.7 790.8 L760.0 795.8 L762.5 800.0"/>
<path d="M720.8 716.7 L708.3 716.7 L707.5 723.3 L711.7 728.3 L714.7 733.3 L705.0 735.8 L701.7 743.3 L700.0 749.2"/>
<path d="M720.8 716.7 L720.8 739.2"/>
<path d="M720.8 716.7 L724.2 710.0 L729.2 706.7"/>
<path d="M724.2 740.0 L722.5 745.0 L721.7 750.0 L723.3 755.0"/>
<path d="M723.3 755.0 L719.2 754.2 L716.7 760.0"/>
<path d="M723.3 755.0 L728.3 758.3 L731.7 761.7 L732.5 767.5"/>
<path d="M732.5 768.3 L736.7 768.3 L738.3 761.7 L743.3 758.3 L746.7 753.3 L750.0 750.0 L755.0 750.0 L759.2 748.3"/>
<path d="M743.3 789.2 L750.0 790.8 L756.7 791.7"/>
<path d="M793.3 712.5 L796.7 710.0 L803.3 712.5 L806.7 715.8 L801.7 718.3 L796.7 716.7 L793.3 712.5"/>
<path d="M796.7 695.0 L801.7 690.8 L810.0 690.0"/>
<path d="M818.3 690.0 L820.0 693.3 L813.3 695.0 L806.7 694.2 L798.3 697.5 L796.7 695.0"/>
<path d="M825.0 696.7 L830.0 695.8 L836.7 695.8 L841.7 695.0 L846.7 698.3 L851.7 703.3 L856.7 706.7 L858.3 711.7 L855.8 713.3 L853.3 710.0 L846.7 710.8 L843.3 712.5 L840.0 717.5 L837.5 718.3 L835.8 714.2 L833.3 711.7 L828.3 711.7 L823.3 714.2 L819.2 712.5 L820.0 709.2 L825.0 709.2 L830.0 710.0 L831.7 707.5 L830.0 703.3 L828.3 700.0 L825.0 696.7"/>
<path d="M836.7 695.8 L837.5 701.7 L836.7 708.3 L837.5 714.2"/>
<path d="M865.8 710.8 L875.8 710.8 L875.8 715.8 L866.7 716.7 L865.8 710.8"/>
<path d="M810.8 800.8 L811.3 795.0 L814.2 790.8 L818.3 788.3 L820.0 785.8 L820.8 789.2 L825.0 786.7 L829.2 783.3 L832.5 780.8 L833.3 776.7 L836.7 774.7 L840.0 775.8 L840.3 779.2 L837.5 781.3 L835.8 785.0 L834.2 788.3 L833.3 793.3 L830.0 796.7 L829.2 800.8"/>
<path d="M835.8 785.8 L836.7 790.0 L835.8 795.0 L837.5 798.3 L839.2 800.8"/>
<path d="M833.3 780.8 L831.7 790.0 L830.0 800.0"/>
<path d="M837.5 790.0 L841.7 787.5 L846.7 785.0 L845.8 780.0 L846.7 776.7 L848.7 779.2 L849.2 782.5 L853.3 784.2 L856.7 785.8 L858.3 790.0 L860.0 794.2 L865.0 794.7 L871.7 794.2 L875.0 796.7 L880.0 799.2 L884.2 796.7 L886.7 791.7 L884.2 789.2 L888.3 788.3 L890.0 791.7 L895.0 793.3 L900.0 794.2 L902.5 792.5"/>
<path d="M902.5 791.7 L907.5 791.7 L907.5 799.2 L903.3 800.0 L902.5 791.7"/>
<path d="M723.3 597.5 L716.7 596.7 L713.3 593.3 L706.7 592.5 L700.0 591.7 L693.3 590.8 L686.7 591.7 L683.3 595.0 L680.0 599.2 L673.3 602.5 L671.7 606.7 L667.5 610.8 L666.7 616.7 L667.5 623.3 L666.7 630.0 L665.8 637.5 L665.0 643.3 L664.2 653.3 L664.2 663.3 L665.8 673.3 L667.5 681.7 L670.8 690.0 L674.2 696.7 L677.5 705.0 L678.3 710.0"/>
<path d="M665.8 637.5 L663.3 631.7 L656.7 625.8 L653.3 620.0 L650.0 611.7 L646.7 603.3 L643.3 596.7 L638.3 591.7 L635.0 590.0"/>
<path d="M600.0 647.5 L605.0 655.0 L610.0 663.3 L614.2 671.7 L615.8 680.0 L613.3 690.0 L616.7 698.3 L621.7 705.0 L625.0 710.0"/>
<path d="M695.0 709.2 L703.3 706.7 L708.3 705.0 L710.0 696.7 L710.8 688.3 L715.0 681.7 L723.3 678.3 L733.3 677.5 L737.5 680.8 L735.8 688.3 L732.5 696.7 L730.8 705.0 L730.0 710.0"/>
<path d="M750.8 676.7 L753.3 670.0 L758.3 665.0 L765.0 661.7 L770.0 660.8"/>
<path d="M750.8 676.7 L755.0 673.3 L760.0 669.2 L766.7 666.7 L770.0 668.3"/>
<path d="M757.5 590.0 L760.0 596.7 L764.2 603.3 L765.8 611.7 L766.7 620.0 L770.0 626.7 L773.3 633.3 L775.0 640.0 L778.3 640.0 L780.8 633.3 L780.0 623.3 L778.3 615.0 L776.7 606.7 L775.0 598.3 L772.5 590.0"/>
<path d="M789.2 625.0 L793.3 621.7 L797.5 620.8 L800.8 625.0 L801.7 630.0 L800.0 632.5"/>
<path d="M794.2 642.5 L796.7 645.8 L795.0 650.0 L797.5 654.2"/>
<path d="M803.3 635.8 L807.5 640.0 L810.8 646.7 L813.3 650.8"/>
<path d="M811.7 655.8 L815.0 661.7 L817.5 665.0"/>
<path d="M820.0 666.7 L823.3 667.5 L821.7 670.8"/>
<path d="M824.2 682.5 L827.5 680.8 L829.2 683.3 L825.8 685.8 L823.3 685.0 L824.2 682.5"/>
<path d="M770.0 661.7 L776.7 663.3 L783.3 665.8 L790.0 670.0 L796.7 675.0 L801.7 680.0 L808.3 684.2 L815.0 688.3 L820.0 691.7"/>
<path d="M770.0 668.0 L775.0 671.7 L781.7 675.0 L788.3 678.3 L793.3 683.3 L798.3 688.3 L800.8 691.7 L797.5 695.8 L803.3 695.8 L811.7 694.2 L818.3 693.3 L820.0 691.7"/>
<path d="M931.7 112.7 L935.6 115.8 L938.7 122.0 L942.6 127.4 L947.2 131.3 L950.3 134.4 L948.8 137.5 L944.1 136.8 L944.9 142.2 L941.8 146.9 L944.9 150.8 L950.3 151.5 L953.4 148.4 L956.5 145.3 L962.0 146.1 L966.7 146.9 L969.8 150.8 L972.1 155.4 L974.4 160.9 L975.2 163.2 L969.8 160.9 L963.5 158.5 L957.3 157.0 L952.7 157.0 L951.1 159.3 L956.5 160.9 L962.0 163.2 L966.7 167.1 L965.1 170.2 L960.4 171.8 L954.2 172.5 L950.3 169.4 L948.0 165.5 L949.5 162.4 L953.4 161.7"/>
<path d="M975.2 163.2 L976.0 167.1 L978.3 168.7"/>
<path d="M978.3 173.3 L974.4 176.4 L975.2 181.1 L978.3 182.7"/>
<path d="M972.9 181.1 L968.2 180.3 L962.8 179.5 L960.4 182.7 L961.2 187.3 L958.9 190.4 L956.5 192.8 L958.9 195.9 L962.0 197.4 L965.1 198.2 L963.5 201.3 L959.7 202.9 L957.3 204.4 L961.2 206.0 L958.9 209.9 L962.0 212.2 L965.9 214.5 L966.7 218.4 L966.7 223.1 L968.2 226.2 L972.1 223.1 L976.0 220.8 L978.3 220.0"/>
<path d="M978.3 226.2 L973.7 228.5 L970.5 231.6 L973.7 234.7 L976.0 238.6 L978.3 240.2"/>
<path d="M966.7 188.9 L971.3 190.4 L975.2 192.8 L978.3 192.0"/>
<path d="M701.0 113.5 L708.3 116.3 L717.5 114.4 L726.7 117.2 L737.7 116.3 L748.7 115.3 L759.7 113.5 L762.4 117.2 L770.7 118.1 L779.8 117.2"/>
<path d="M745.9 132.8 L750.5 128.2 L759.7 126.3 L768.8 125.4 L776.2 127.3 L779.8 126.3 L789.0 126.3 L798.2 127.3 L803.7 130.0 L807.3 134.6 L800.0 133.7 L794.5 132.8 L789.9 135.5 L785.3 132.8 L779.8 130.0 L778.0 133.7 L776.2 139.2 L775.3 143.8 L779.8 142.8 L785.3 141.9 L789.9 145.6 L792.7 141.9 L791.8 138.3 L798.2 137.3 L807.3 136.4 L812.8 138.3 L818.3 142.8 L814.7 147.4 L818.3 149.3 L823.8 147.4 L829.3 150.2 L834.8 152.0 L838.5 155.7 L844.0 157.5 L849.5 157.5 L855.0 158.4 L851.3 164.8 L855.0 163.0 L860.5 161.2 L866.0 163.9 L862.3 168.5 L867.8 169.4 L869.7 174.0 L864.2 175.8 L856.8 177.7 L860.5 181.3 L866.0 185.0 L871.5 187.8 L878.8 186.8 L884.3 188.7 L888.0 192.3 L884.3 196.0 L891.7 197.8 L899.0 196.9 L904.5 199.7 L905.4 203.3 L900.8 206.1 L899.0 210.7 L894.4 212.5"/>
<path d="M772.9 600.0 L772.0 591.1 L772.9 580.4 L774.7 573.3 L776.4 566.2 L781.8 560.9 L787.1 553.8 L790.7 548.4 L796.0 544.9 L801.3 539.6 L804.9 534.2 L802.2 531.6 L803.1 528.0 L808.4 528.9 L811.6 525.3 L812.0 520.0 L810.2 514.7 L807.6 510.2 L804.9 514.7 L804.0 507.6 L804.9 498.7 L804.0 491.6 L806.7 488.0 L807.6 493.3 L808.8 502.2 L809.3 511.1 L811.1 514.7 L813.8 509.3 L815.6 500.4 L817.3 493.3 L819.1 488.0 L816.4 485.3 L815.6 480.9 L818.2 478.2 L822.7 480.0 L824.4 474.7 L825.3 468.4 L827.1 465.8 L830.7 464.9 L835.1 464.0 L844.0 461.0 L849.3 458.7 L842.2 459.9 L836.9 461.0 L828.0 463.1 L836.9 459.2 L842.2 457.4 L844.9 456.0 L846.1 458.7 L849.3 454.2 L854.7 455.1 L852.9 450.7 L849.3 449.8 L848.4 445.3 L845.8 441.8 L846.7 440.0"/>
<path d="M840.5 411.0 L843.5 405.0 L849.5 396.0 L855.5 388.5 L861.5 382.5 L866.0 381.0 L869.0 375.0 L875.0 373.5 L884.0 373.5 L893.0 373.5 L902.0 373.5 L911.0 372.0 L917.0 369.0 L923.0 363.0 L930.5 360.7 L936.5 358.5 L941.0 356.2 L941.7 351.0 L939.5 346.5 L940.2 342.0 L936.5 337.5 L932.0 333.7 L929.0 331.5 L923.0 332.2 L917.0 334.5 L912.5 336.7 L911.7 342.0 L915.5 339.0 L920.0 336.7 L927.5 335.2 L932.0 337.5 L931.2 340.5 L935.0 339.0 L933.5 334.5 L932.0 330.0"/>
<path d="M942.5 360.0 L939.5 362.2 L937.2 367.5 L933.5 373.5 L930.5 378.0 L927.5 382.5 L924.5 388.5 L921.5 393.0 L918.5 397.5 L920.0 402.0 L927.5 400.5 L935.0 402.0 L941.0 400.5 L945.5 403.5 L941.0 406.5 L938.0 409.5 L944.0 408.0 L948.5 403.5 L951.5 402.0 L953.0 408.0 L957.5 411.0 L959.0 408.0 L961.2 402.0 L959.0 396.0 L957.5 390.0 L954.5 385.5 L950.0 382.5 L944.0 381.0 L939.5 378.0 L935.7 379.5 L935.0 376.5 L938.7 373.5 L941.0 369.0 L942.5 364.5 L944.0 360.7 L942.5 360.0"/>
<path d="M840.5 414.0 L845.0 408.0 L852.5 399.0 L860.0 393.0 L867.5 388.5 L875.0 386.2 L882.5 386.2 L886.2 390.0 L884.0 393.0 L878.0 396.0 L872.0 396.0 L875.0 400.5 L879.5 405.0 L881.7 411.0 L885.5 414.0 L888.5 418.5 L884.0 420.0 L890.0 419.2 L897.5 420.7 L905.0 418.5 L905.0 414.0 L909.5 408.0 L912.5 411.0 L914.0 417.0 L908.0 421.5 L903.5 424.5 L897.5 427.5 L890.0 432.0 L884.0 436.5 L878.0 444.0 L875.0 445.5 L873.5 441.0 L876.5 435.0 L881.0 429.0 L884.0 426.0 L878.0 426.0 L872.0 429.0 L866.0 433.5 L860.0 435.0 L854.0 438.0 L849.5 441.0 L845.0 445.5 L843.5 450.0 L842.0 454.5 L840.5 459.0 L842.0 465.0"/>
<path d="M888.5 414.0 L896.0 415.5 L899.0 417.7 L893.0 417.7 L888.5 416.2 L888.5 414.0"/>
<path d="M885.5 378.0 L893.0 380.2 L902.0 384.7 L900.5 387.0 L893.0 384.7 L887.0 381.0 L885.5 378.0"/>
<path d="M360.0 271.3 L373.3 270.8 L376.7 272.5 L386.7 273.3 L391.7 277.5 L396.7 276.7 L401.7 281.7 L408.3 283.3 L415.0 275.0 L418.3 273.3 L421.7 280.0 L426.7 286.7 L431.7 294.2 L438.3 300.0 L443.3 308.3 L450.0 315.0 L453.3 321.7 L450.8 328.3 L453.3 335.0 L458.3 338.3 L460.0 343.3 L466.7 348.3 L471.7 351.7 L470.0 356.7 L466.7 358.3 L470.0 365.0 L476.7 366.7 L483.3 370.0 L486.7 375.0 L493.3 381.7 L498.3 383.3 L501.7 391.7 L503.3 400.0"/>
<path d="M410.0 288.3 L416.7 285.0 L421.7 291.7 L418.3 298.3 L413.3 295.0 L410.0 288.3"/>
<path d="M418.3 300.0 L425.0 296.7 L430.0 305.0 L426.7 310.0 L420.0 306.7 L418.3 300.0"/>
<path d="M430.0 311.7 L436.7 310.0 L443.3 316.7 L441.7 323.3 L435.0 321.7 L430.0 311.7"/>
<path d="M423.3 293.3 L428.3 291.7 L433.3 300.0 L430.0 301.7 L423.3 293.3"/>
<path d="M410.0 291.7 L415.0 300.0 L421.7 308.3 L428.3 313.3 L433.3 323.3"/>
<path d="M431.7 328.3 L438.3 333.3 L441.7 340.0 L440.0 345.0 L443.3 351.7 L440.0 350.0 L435.8 343.3 L433.3 336.7 L431.7 328.3"/>
<path d="M463.3 368.3 L470.0 366.7 L476.7 370.0 L483.3 375.0 L488.3 381.7 L491.7 388.3 L486.7 386.7 L480.0 381.7 L473.3 376.7 L466.7 373.3 L463.3 368.3"/>
<path d="M493.3 383.3 L495.0 390.0 L498.3 395.0 L496.7 400.0"/>
<path d="M356.0 164.2 L347.7 162.5 L339.3 160.8 L331.0 160.0 L322.7 159.2 L314.3 160.0 L306.0 157.5 L299.3 155.0 L289.3 154.2 L284.3 156.7 L281.0 151.7 L276.0 150.8 L269.3 153.3 L262.7 155.0 L256.0 157.5 L249.3 159.2 L242.7 161.7 L236.0 165.8 L231.0 171.7 L226.0 175.0 L219.3 176.7 L212.7 179.2 L211.0 182.5 L217.7 184.2 L224.3 187.5 L229.3 192.5 L232.7 195.0 L239.3 196.7 L242.7 199.2 L247.7 200.8 L256.0 202.5 L249.3 204.2 L242.7 205.0 L237.7 206.7 L231.0 205.0 L229.3 201.7 L224.3 201.7 L217.7 205.0 L211.0 208.3 L202.7 211.3 L207.7 213.3 L214.3 215.0 L217.7 216.7 L212.7 218.3 L212.7 221.7 L219.3 223.3 L227.7 223.3 L234.3 224.2 L239.3 222.5 L244.3 220.0 L249.3 220.0 L251.0 223.3 L246.8 225.8 L249.3 230.0 L249.3 233.3 L242.7 235.0 L236.0 236.7 L231.0 238.3 L227.7 240.0 L222.7 245.0 L219.3 250.0 L216.0 253.3 L216.8 257.5 L221.0 259.2 L226.0 261.7 L229.3 260.8 L232.7 263.3 L229.3 265.0 L224.3 263.3 L222.7 265.8 L226.0 270.0 L231.0 273.3 L237.7 271.7 L241.0 270.0 L242.7 275.0 L242.7 280.0"/>
<path d="M206.0 270.0 L212.7 267.5 L217.7 270.0 L214.3 273.3 L207.7 272.5 L206.0 270.0"/>
<path d="M176.8 232.5 L181.0 231.7 L187.7 233.3 L194.3 235.8 L196.0 237.5 L191.0 238.3 L187.7 235.8 L181.0 235.0 L176.8 232.5"/>
<path d="M156.0 196.7 L161.0 195.8 L164.3 198.3 L163.5 203.3 L159.3 203.3 L156.0 201.7"/>
<path d="M164.3 198.3 L167.7 196.7 L172.7 196.7 L177.7 197.5 L182.7 201.7 L187.7 205.8 L191.0 207.5 L186.0 208.3 L182.7 211.7 L177.7 210.8 L172.7 211.7 L174.3 215.0 L171.0 219.2 L167.7 223.3 L162.7 224.2 L156.0 220.8"/>
<path d="M292.7 280.0 L297.7 275.0 L302.7 270.0 L306.0 265.0 L312.7 260.0 L317.7 257.5 L322.7 259.2 L326.0 261.7 L321.0 263.3 L316.0 263.3 L311.0 268.3 L309.3 273.3 L311.0 278.3 L316.0 275.0 L322.7 271.7 L329.3 268.3 L331.0 263.3 L332.7 260.0 L337.7 261.7 L341.0 265.0 L346.0 266.7 L351.0 265.8 L356.0 268.3"/>
<path d="M216.0 255.0 L220.0 259.0 L228.0 261.0 L233.0 263.0 L230.0 266.0 L224.0 264.0 L222.0 268.0 L226.0 271.0 L232.0 273.0 L240.0 272.0 L242.0 277.0 L243.0 283.0 L248.0 286.0 L256.0 283.0 L264.0 285.0 L265.0 282.0 L272.0 285.0 L275.0 284.0 L273.0 290.0 L271.0 295.0 L266.0 301.0 L260.0 306.0 L254.0 311.0 L248.0 316.0 L242.0 319.0 L250.0 316.0 L256.0 315.0 L264.0 311.0 L272.0 305.0 L280.0 300.0 L288.0 294.0 L296.0 287.0 L294.0 280.0 L299.0 275.0 L304.0 269.0 L310.0 263.0 L316.0 259.0 L322.0 258.0 L326.0 261.0 L320.0 265.0 L314.0 269.0 L310.0 275.0 L309.0 281.0 L314.0 278.0 L320.0 275.0 L326.0 272.0 L334.0 272.0 L336.0 267.0 L332.0 261.0 L336.0 259.0 L342.0 263.0 L348.0 267.0 L356.0 265.0 L364.0 269.0 L372.0 271.0 L380.0 269.0 L388.0 272.0 L396.0 275.0"/>
<path d="M224.0 331.0 L228.0 326.0 L236.0 323.0 L244.0 319.0 L252.0 316.0 L254.0 318.0 L246.0 322.0 L238.0 325.0 L230.0 329.0 L226.0 332.0 L224.0 331.0"/>
<path d="M209.0 335.0 L213.6 334.6 L213.0 339.0 L209.6 340.0 L209.0 335.0"/>
<path d="M292.0 301.0 L296.0 295.0 L302.0 289.0 L306.0 288.0 L305.0 294.0 L300.0 300.0 L296.0 304.0 L292.0 301.0"/>
<path d="M207.0 270.0 L212.0 267.4 L217.0 269.4 L215.0 273.0 L209.0 273.0 L207.0 270.0"/>
<path d="M370.0 165.8 L380.0 168.3 L386.7 170.8 L395.0 173.3 L403.3 176.7 L411.7 177.5 L417.5 180.0 L414.2 174.2 L420.0 170.8 L427.5 168.3"/>
<path d="M429.2 175.0 L436.7 170.8 L445.0 165.8 L454.2 163.3 L455.0 165.8 L448.3 170.8 L441.7 175.0 L435.8 181.7 L429.2 177.5 L429.2 175.0"/>
<path d="M455.0 165.8 L463.3 161.7 L467.5 160.0 L470.0 163.3 L473.3 167.5 L478.3 170.8 L483.3 172.5 L484.2 167.5 L486.7 166.7 L488.3 171.7 L493.3 170.8 L498.3 167.5 L503.3 165.8 L508.3 166.7 L515.0 169.2 L523.3 172.5 L531.7 175.0 L538.3 176.7 L546.7 178.3 L553.3 180.0 L558.3 181.7 L553.3 185.0 L548.3 186.7 L550.0 190.0 L556.7 190.0 L563.3 190.8 L570.0 190.0"/>
<path d="M486.7 118.3 L496.7 117.5 L510.0 116.7 L520.0 120.8 L528.3 121.7 L536.7 120.8 L543.3 124.2 L547.5 126.7 L541.7 128.3 L533.3 130.8 L526.7 135.0 L520.0 138.3 L516.7 143.3 L515.0 147.5 L508.3 149.2 L501.7 153.3 L496.7 151.7 L493.3 147.5 L486.7 144.2 L480.8 143.3 L484.2 138.3 L485.0 133.3 L490.0 129.2 L492.5 124.2 L486.7 118.3"/>
<path d="M570.0 134.2 L565.0 135.0 L558.3 137.5 L555.0 135.0 L558.3 131.7 L553.3 129.2 L545.0 130.8 L536.7 135.0 L530.0 138.3 L526.7 141.7 L525.0 145.8 L530.0 149.2 L536.7 149.2 L546.7 148.3 L549.2 150.8 L543.3 152.5 L535.0 153.3 L529.2 154.2 L535.0 156.7 L543.3 158.3 L553.3 160.0 L561.7 160.8 L570.0 159.2"/>
<path d="M556.7 115.0 L561.7 116.7 L570.0 117.5"/>
<path d="M558.3 112.5 L570.0 113.3"/>
<path d="M556.7 115.0 L563.3 117.5 L571.7 118.3 L578.3 115.8 L583.3 114.2"/>
<path d="M550.0 131.7 L555.0 130.0 L558.3 135.0 L565.0 134.2 L571.7 136.7 L576.7 138.3 L581.7 133.3 L590.0 135.0 L595.0 141.7 L599.2 145.8 L598.3 139.2 L596.7 131.7 L600.0 129.2 L606.7 126.7 L613.3 125.8 L619.2 126.7 L618.3 130.0 L614.2 132.5 L615.8 137.5 L618.3 143.3 L621.7 149.2 L620.8 153.3 L625.0 156.7 L631.7 159.2 L638.3 161.7 L643.3 164.2 L645.0 168.3 L640.8 170.0 L636.7 167.5 L631.7 168.3 L628.3 170.8 L631.7 174.2 L636.7 174.2 L633.3 175.8 L626.7 173.3 L620.0 174.2 L613.3 172.5 L607.5 171.7 L601.7 174.2 L596.7 176.7 L590.0 178.3 L583.3 178.3 L576.7 179.2 L570.0 177.5 L563.3 175.8 L556.7 174.2 L550.0 174.2"/>
<path d="M550.0 158.3 L558.3 158.3 L568.3 160.0 L574.2 161.7 L566.7 163.3 L558.3 163.3 L550.0 163.3"/>
<path d="M550.0 178.3 L555.0 180.0 L558.3 183.3 L553.3 184.2 L550.0 185.0"/>
<path d="M550.0 188.3 L558.3 189.2 L566.7 190.0 L575.0 189.2 L583.3 188.3 L590.0 190.0 L596.7 193.3 L595.0 196.7 L601.7 201.7 L603.3 196.7 L600.0 193.3 L599.2 188.3 L601.7 185.8 L608.3 184.2 L613.3 183.3 L620.0 185.8 L626.7 187.5 L633.3 189.2 L640.0 190.0 L646.7 189.2 L653.3 188.3 L660.0 187.5 L666.7 189.2 L670.0 191.7 L674.2 188.3 L673.3 184.2 L666.7 183.3 L661.7 184.2 L665.0 181.7 L671.7 182.5 L676.7 185.0 L678.3 190.0 L676.7 195.0 L682.5 196.7 L681.7 191.7 L683.3 186.7 L688.3 185.0 L693.3 183.3 L696.7 180.0 L697.5 173.3 L693.3 173.3 L688.3 176.7 L686.7 174.2 L691.7 171.7 L697.5 170.0 L703.3 168.3 L710.0 170.0 L715.0 176.7 L715.0 183.3 L720.0 180.0 L723.3 175.0 L728.3 176.7 L730.8 183.3 L726.7 186.7 L730.0 191.7 L735.0 195.8 L740.0 193.3 L743.3 188.3 L741.7 183.3"/>
<path d="M655.0 175.0 L660.0 170.0 L666.7 168.3 L673.3 171.7 L678.3 176.7 L680.0 179.2 L673.3 180.0 L665.0 179.2 L658.3 177.5 L655.0 175.0"/>
<path d="M595.8 180.8 L601.7 178.3 L610.0 176.7 L613.3 179.2 L608.3 182.5 L601.7 184.2 L595.8 180.8"/>
<path d="M633.3 135.0 L640.0 131.7 L645.0 132.5 L640.8 127.5 L646.7 125.0 L653.3 125.8 L660.0 125.0 L666.7 124.2 L670.8 126.7 L665.0 129.2 L661.7 131.7 L666.7 135.0 L673.3 136.7 L674.2 140.8 L670.0 145.0 L665.0 145.8 L664.2 150.0 L659.2 150.8 L653.3 146.7 L648.3 143.3 L641.7 140.8 L636.7 138.3 L633.3 135.0"/>
<path d="M680.0 126.7 L686.7 124.2 L695.0 124.2 L705.0 123.3 L712.5 125.0 L708.3 130.0 L703.3 135.0 L696.7 136.7 L691.7 139.2 L687.5 142.5 L682.5 140.0 L679.2 135.0 L680.0 126.7"/>
<path d="M673.3 155.0 L678.3 150.0 L685.0 146.7 L691.7 147.5 L696.7 151.7 L697.5 158.3 L701.7 163.3 L705.0 163.3 L698.3 167.5 L691.7 167.5 L685.0 166.7 L678.3 163.3 L675.0 160.0 L673.3 155.0"/>
<path d="M694.2 229.2 L701.7 231.7 L708.3 232.5 L713.3 235.8 L706.7 239.2 L700.0 241.7 L705.0 243.3 L698.3 248.3 L693.3 252.5 L690.0 258.3 L686.7 265.0 L685.0 273.3 L685.8 281.7 L690.0 285.0 L695.0 285.8 L698.3 293.3 L701.7 300.0 L700.0 304.2 L706.7 301.7 L713.3 301.7 L720.0 304.2 L726.7 308.3 L731.7 313.3 L736.7 315.8 L743.3 318.3 L750.0 320.8 L755.0 322.5 L763.3 321.7 L768.3 325.0 L766.7 331.7 L767.5 338.3 L766.7 345.0 L770.0 348.3 L770.8 354.2 L775.0 356.7 L780.0 361.7 L785.0 368.3 L787.5 363.3 L790.8 360.8 L791.7 355.0 L790.8 348.3 L790.0 341.7 L788.3 335.0 L785.0 328.3 L791.7 325.0 L798.3 320.0 L803.3 313.3 L805.8 306.7 L805.0 298.3 L801.7 293.3 L796.7 289.2 L791.7 285.0 L796.7 280.0 L800.8 275.0 L800.0 268.3 L796.7 264.2 L795.0 263.3 L798.3 258.3 L796.7 253.3 L795.0 248.3 L798.3 245.0 L805.0 245.0 L811.7 247.5 L818.3 245.8 L825.0 247.5 L831.7 250.8 L836.7 255.0 L843.3 258.3 L850.0 260.8"/>
<path d="M713.3 235.8 L716.7 228.3 L723.3 227.5 L730.0 225.0"/>
<path d="M734.2 233.3 L740.8 228.3 L745.0 231.7 L747.5 237.5 L752.5 233.3 L757.5 230.0 L765.0 228.3 L770.0 225.0"/>
<path d="M756.7 246.7 L761.7 241.7 L768.3 240.0 L770.0 241.7 L765.0 246.7 L760.0 248.3 L756.7 246.7"/>
<path d="M780.0 251.7 L783.3 246.7 L786.7 246.7 L785.8 252.5 L783.3 255.0 L780.0 251.7"/>
<path d="M782.5 315.0 L785.8 310.8 L790.0 307.5 L790.8 310.8 L786.7 314.2 L783.3 316.3 L782.5 315.0"/>
<path d="M768.3 345.0 L773.3 343.3 L777.5 345.8 L778.3 349.2 L773.3 347.5 L769.2 347.5 L768.3 345.0"/>
<path d="M790.0 325.8 L793.6 322.2 L798.9 316.9 L804.2 309.8 L805.1 302.7 L802.4 295.6 L797.1 290.2 L792.7 284.9 L796.2 279.6 L799.8 274.2 L798.0 268.9 L795.3 261.8 L797.1 254.7 L794.4 248.4 L798.0 245.8 L804.2 245.8 L811.3 247.6 L818.4 248.4 L825.6 249.3 L832.7 252.9 L838.0 256.4 L843.3 260.0 L850.4 261.8 L853.1 264.4 L850.4 268.9 L851.3 276.0 L850.4 281.3 L847.8 284.9 L854.0 284.9 L859.3 288.4 L864.7 290.2 L870.0 286.7 L875.3 284.9 L877.1 279.6 L878.9 274.2 L882.4 270.7 L884.2 272.4 L887.8 277.8 L891.3 283.1 L894.9 286.7 L898.4 292.0 L903.8 299.1 L905.6 304.4 L900.2 306.2 L901.1 309.8 L905.6 313.3 L910.9 317.8 L912.7 322.2 L918.0 324.0 L925.1 327.6 L930.4 331.1 L921.6 332.9 L914.4 336.4 L912.7 338.2"/>
<path d="M800.7 188.9 L806.0 183.6 L813.1 185.3 L812.2 190.7 L806.9 195.1 L801.6 194.2 L800.7 188.9"/>
<path d="M823.8 180.0 L825.6 183.6 L830.9 190.7 L833.6 195.1 L827.3 198.7 L822.0 203.1 L823.8 208.4 L818.4 213.8 L813.1 217.3 L807.8 215.6 L800.7 216.4 L795.3 222.7 L794.4 220.0 L798.0 215.6"/>
<path d="M813.1 219.1 L818.4 220.9 L825.6 224.4 L830.9 228.0 L836.2 231.6 L840.7 235.1 L843.3 241.3 L848.7 242.2 L854.0 245.8 L861.1 247.6 L866.4 249.3 L871.8 251.1 L874.4 253.8 L870.9 247.6 L866.4 242.2 L861.1 236.9 L855.8 233.3 L858.4 230.7 L864.7 233.3 L870.0 236.9 L875.3 240.4 L880.7 244.0 L883.3 240.4 L882.4 233.3 L879.8 228.0 L875.3 222.7 L870.0 218.2 L864.7 212.9 L860.2 207.6 L862.9 201.3 L870.0 200.4 L875.3 204.9 L880.7 210.2 L886.0 214.7 L891.3 218.2 L892.2 213.8 L890.4 209.3"/>
<path d="M832.7 199.6 L839.8 196.0 L848.7 197.8 L853.1 202.2 L848.7 206.7 L839.8 207.6 L833.6 204.9 L832.7 199.6"/>
<path d="M486.7 393.3 L491.7 403.3 L490.0 413.3 L491.7 426.7 L490.0 440.0 L488.3 451.7 L490.7 463.3 L491.7 476.7 L495.0 486.7 L500.0 500.0 L503.3 513.3 L506.7 523.3 L513.3 536.7 L520.0 543.3 L528.3 548.3 L535.0 556.7 L540.0 566.7 L543.3 580.0 L548.3 593.3 L555.0 603.3 L551.7 613.3 L558.3 620.0 L565.0 630.0 L570.0 643.3 L576.7 653.3 L583.3 663.3 L586.7 660.0 L583.3 646.7 L578.3 633.3 L573.3 620.0 L566.7 606.7 L561.7 593.3 L556.7 580.0 L553.3 570.0 L551.7 563.3 L560.0 570.0 L565.0 583.3 L570.0 596.7 L576.7 610.0 L583.3 620.0 L588.3 630.0 L593.3 643.3 L601.7 656.7 L610.0 666.7 L615.0 680.0"/>
<path d="M491.7 403.3 L498.3 396.7 L501.7 405.0 L498.3 390.0 L496.7 386.7"/>
<path d="M690.0 592.1 L695.0 592.5 L699.2 593.8 L702.5 591.2 L705.8 593.3 L708.3 597.1 L711.7 597.5 L714.2 594.2 L717.5 597.1 L722.5 598.3 L718.3 594.2 L719.2 590.0 L717.5 586.7 L714.2 588.3 L713.3 586.7 L715.8 585.0 L719.2 585.8 L721.7 583.8 L725.8 583.8 L729.2 585.0 L732.5 585.0 L735.8 583.3 L740.0 583.8 L743.3 585.8 L746.7 589.2 L748.3 592.1 L751.7 589.2 L754.2 586.7 L756.7 587.9 L759.2 590.8 L761.7 595.0 L764.2 598.3 L764.6 603.3 L763.8 607.5 L763.3 611.7 L765.0 615.0 L765.8 620.0"/>
<path d="M774.2 570.0 L772.5 575.0 L772.1 580.0 L772.1 586.7 L773.3 591.7 L775.0 596.7 L777.5 601.7 L779.2 607.5 L780.0 613.3 L780.4 620.0"/>
<path d="M282.3 691.3 L286.7 695.0 L289.7 699.3 L289.3 701.0 L286.7 702.7 L285.3 706.3 L283.3 706.7 L281.3 704.7 L281.3 701.0 L280.3 697.7 L282.0 696.3 L282.3 691.3"/>
<path d="M721.3 154.0 L726.7 158.0 L733.3 159.3 L738.7 162.0 L736.0 166.0 L740.0 164.7 L745.3 164.0 L750.7 165.3 L756.0 166.0 L762.7 165.3 L769.3 164.7 L774.7 165.3 L777.3 168.7 L776.0 163.3 L780.0 159.3 L785.3 158.0 L790.7 160.0 L796.0 163.3 L801.3 168.7 L806.7 172.7 L812.0 175.3 L817.3 176.7 L822.7 180.7 L826.7 184.7 L830.7 188.7 L833.3 194.0 L832.0 198.0 L828.0 199.3 L824.0 203.3 L820.0 204.7 L822.7 210.0 L825.3 214.0 L820.0 215.3 L814.7 216.7 L810.7 218.0 L813.3 220.7 L818.7 220.0 L824.0 222.0 L828.0 226.0 L832.0 228.7 L836.0 231.3 L840.0 235.3 L838.7 239.3 L844.0 242.0 L848.0 246.0"/>
<path d="M746.7 170.0 L753.3 168.7 L760.0 170.0 L766.7 172.0 L772.0 174.0 L772.7 178.7 L768.0 178.0 L764.0 180.7 L766.7 186.0 L770.7 190.0 L774.0 193.3 L772.0 196.7 L766.7 199.3 L761.3 201.3 L757.3 203.3 L753.3 200.7 L750.7 196.7 L746.7 200.7 L741.3 201.3 L737.3 202.0 L738.7 204.7 L744.0 204.0 L749.3 203.3 L753.3 206.0 L756.0 210.0 L753.3 208.7 L749.3 212.7 L746.7 210.7 L744.0 214.0 L742.7 218.0 L740.0 222.7"/>
<path d="M700.0 159.3 L704.0 163.3 L700.0 167.3"/>
<path d="M700.0 170.0 L706.7 170.0 L712.0 172.7 L713.3 176.7 L716.0 182.0 L720.0 176.7 L724.0 174.7 L728.0 177.3 L729.3 182.0 L726.7 186.0 L729.3 190.0 L733.3 194.0 L737.3 194.7 L741.3 190.0 L745.3 186.0 L749.3 182.0 L746.7 176.7 L748.0 172.7 L746.7 170.0"/>
<path d="M710.0 208.7 L714.7 207.3 L720.0 208.7 L725.3 212.0 L730.7 215.3 L734.7 218.0 L732.0 220.0 L726.7 218.0 L721.3 215.3 L716.0 212.7 L710.7 210.7 L710.0 208.7"/>
<path d="M700.0 231.3 L705.3 230.0 L712.0 231.3 L716.0 227.3 L721.3 226.7 L726.7 224.7 L732.0 222.0 L733.3 224.7 L729.3 228.7 L724.0 230.0 L718.7 231.3 L713.3 235.3 L708.0 238.0 L702.7 240.7 L700.0 243.3"/>
<path d="M734.7 233.3 L740.0 228.7 L742.7 223.3 L745.3 216.7 L746.7 212.0 L750.7 214.0 L756.0 216.7 L762.7 219.3 L768.0 222.7 L770.7 227.3 L774.7 230.0 L780.0 231.3 L777.3 234.0 L772.0 232.0 L766.7 230.0 L762.7 228.7 L758.7 231.3 L754.7 235.3 L749.3 238.0 L746.0 235.3 L742.7 230.0 L738.7 233.3 L734.7 233.3"/>
<path d="M757.3 244.7 L762.7 240.7 L769.3 240.0 L766.7 244.7 L761.3 248.0 L757.3 247.3 L757.3 244.7"/>
<path d="M780.0 251.3 L782.7 247.3 L786.7 247.3 L785.3 252.7 L782.7 254.7 L780.0 251.3"/>
<path d="M787.3 174.7 L791.3 172.0 L794.0 173.3 L790.7 176.7 L787.3 176.7 L787.3 174.7"/>
<path d="M800.7 188.7 L804.0 184.0 L809.3 182.7 L813.3 185.3 L813.3 190.0 L809.3 194.0 L804.0 194.7 L800.7 192.0 L800.7 188.7"/>
<path d="M796.0 218.0 L801.3 215.3 L808.0 216.0 L812.0 219.3 L809.3 224.0 L804.0 226.0 L798.7 225.3 L795.3 222.7 L796.0 218.0"/>
<path d="M838.7 199.3 L842.7 196.7 L848.0 198.7 L853.3 201.3 L850.7 204.7 L845.3 206.0 L841.3 207.3 L838.7 203.3 L838.7 199.3"/>
<path d="M796.0 270.0 L798.7 264.7 L796.0 262.0 L798.7 256.7 L797.3 251.3 L794.7 248.7 L797.3 245.3 L802.7 244.7 L806.7 246.0 L810.7 248.7 L816.0 248.0 L820.0 248.7 L825.3 247.3 L830.7 248.7 L833.3 252.7 L836.0 256.7 L841.3 259.3 L846.7 260.7 L850.7 263.3 L852.0 268.7"/>
<path d="M716.0 148.8 L718.3 143.0 L717.2 139.5 L720.1 133.7 L723.6 130.2 L728.8 127.3 L735.8 125.5 L746.9 125.5 L743.4 129.6 L738.2 131.9 L736.4 135.4 L740.5 138.9 L746.3 137.2 L753.9 140.7 L746.9 145.3 L752.8 148.3 L753.3 151.8 L749.3 154.1 L743.4 152.9 L746.9 150.6 L742.3 145.9 L738.2 143.0 L736.4 138.9"/>
<path d="M716.0 148.8 L721.8 150.0 L727.7 151.2 L733.5 153.5 L735.8 155.8 L730.0 155.8 L725.3 154.7 L721.8 155.8 L723.0 158.8 L728.8 160.5 L734.7 161.7 L737.0 159.3 L740.5 161.7 L745.2 163.4 L751.0 164.0 L756.8 165.2 L762.7 165.8 L768.5 166.3 L774.3 165.8 L776.7 168.7 L776.7 164.0 L781.3 162.8"/>
<path d="M660.0 125.5 L664.7 124.9 L670.5 125.5 L667.0 129.0 L662.3 131.3 L665.8 133.1 L671.7 135.4 L674.6 139.5 L671.7 143.0 L667.0 145.3 L662.3 146.5 L660.0 148.8"/>
<path d="M777.8 157.0 L782.5 158.2 L788.3 160.5 L794.2 162.8 L800.0 166.3"/>
<path d="M786.6 176.3 L789.5 173.3 L793.0 172.2 L791.8 175.7 L788.3 177.4 L786.6 176.3"/>
</g>
<g clip-path="url(#ax)" fill="#000"><path d="M961.2 180.3 L971.3 181.1 L972.1 189.6 L962.8 188.9Z"/><path d="M958.9 150.3 L964.3 151.5 L965.4 154.7 L960.7 154.0Z"/><path d="M256.0 671.0 L260.0 671.0 L260.0 675.0 L256.0 675.0Z"/><path d="M266.3 677.0 L268.7 676.2 L271.0 680.3 L270.3 682.0 L267.3 681.7 L266.0 678.7Z"/><path d="M271.3 681.7 L275.3 681.0 L280.0 684.3 L283.0 686.3 L280.0 689.0 L278.0 690.0 L276.7 687.0 L274.7 685.0 L272.0 684.7Z"/><path d="M817.3 186.0 L826.7 187.3 L826.7 190.0 L820.0 190.0Z"/><path d="M798.7 170.0 L802.7 171.3 L802.0 174.7 L799.3 174.0Z"/><path d="M805.3 176.0 L810.7 176.7 L810.7 178.7 L806.0 178.7Z"/><path d="M793.3 233.3 L798.7 234.7 L798.7 236.7 L794.0 236.0Z"/><path d="M800.0 232.7 L804.0 233.3 L803.7 235.3 L800.7 235.1Z"/><path d="M736.7 182.7 L739.3 185.3 L736.7 188.0 L734.0 185.3Z"/><path d="M735.8 162.8 L738.2 165.2 L735.8 167.5 L733.5 165.2Z"/></g>
<g clip-path="url(#ax)" fill="#000"><circle cx="881.7" cy="718.3" r="2.0"/><circle cx="901.7" cy="725.3" r="1.6"/><circle cx="903.0" cy="734.7" r="3.8"/><circle cx="904.2" cy="742.5" r="2.9"/><circle cx="906.7" cy="750.0" r="2.5"/><circle cx="907.0" cy="758.3" r="2.5"/><circle cx="905.0" cy="766.3" r="2.0"/><circle cx="916.3" cy="766.7" r="2.0"/><circle cx="902.0" cy="778.3" r="2.3"/><circle cx="909.2" cy="786.7" r="1.4"/><circle cx="886.7" cy="789.7" r="2.3"/><circle cx="847.5" cy="779.2" r="2.0"/><circle cx="762.5" cy="676.7" r="2.7"/><circle cx="869.8" cy="547.6" r="3.4"/><circle cx="914.0" cy="441.0" r="2.4"/><circle cx="201.6" cy="341.4" r="2.2"/><circle cx="161.0" cy="353.0" r="2.4"/><circle cx="848.3" cy="284.2" r="2.0"/><circle cx="798.3" cy="234.2" r="1.8"/><circle cx="881.6" cy="255.6" r="2.6"/><circle cx="860.2" cy="267.1" r="1.4"/><circle cx="820.2" cy="187.1" r="2.9"/><circle cx="735.3" cy="164.0" r="1.8"/></g>
<g clip-path="url(#ax)" fill="none" stroke="#000" stroke-width="2.2" stroke-linejoin="round" shape-rendering="crispEdges">
<path d="M496.5 388.1 L681.6 388.1 L681.6 384.1 L683.9 384.9 L685.2 391.1 L692.4 392.6 L698.4 393.9 L706.3 398.0 L710.2 396.6 L718.1 398.7"/>
<path d="M491.9 417.2 L495.8 417.8 L499.1 420.4 L500.1 423.6 L503.1 424.7 L510.3 423.6 L514.9 423.1 L520.8 421.0 L524.8 419.9 L538.4 419.9"/>
<path d="M537.6 388.1 L537.6 415.7 L538.4 419.9 L541.2 425.2 L538.9 431.6 L536.6 436.9 L538.6 439.5 L537.7 443.2 L537.7 462.3"/>
<path d="M490.6 462.3 L577.0 462.3"/>
<path d="M518.2 462.3 L518.2 494.1 L553.5 536.5 L555.0 544.5 L553.0 553.5 L554.3 560.4 L552.9 560.7"/>
<path d="M557.3 515.3 L557.3 523.8 L553.0 525.4 L553.5 536.5"/>
<path d="M557.3 462.3 L557.3 515.3"/>
<path d="M557.3 515.3 L685.1 515.3"/>
<path d="M590.2 472.9 L590.2 575.4"/>
<path d="M577.0 430.5 L577.0 472.9 L636.2 472.9"/>
<path d="M577.0 430.5 L623.1 430.5"/>
<path d="M623.1 388.1 L623.1 472.9"/>
<path d="M636.2 472.9 L636.2 515.3"/>
<path d="M544.2 388.1 L544.2 398.7 L551.1 409.3 L555.0 414.6 L554.0 424.7 L559.0 425.2 L561.3 431.6 L565.2 436.9 L574.1 434.7 L577.0 435.8"/>
<path d="M623.1 420.5 L672.3 420.5"/>
<path d="M623.1 451.7 L659.6 451.7 L663.5 453.8 L668.1 453.3 L673.0 457.0"/>
<path d="M636.2 483.5 L680.6 483.5"/>
<path d="M667.9 388.1 L670.7 402.9 L672.3 420.5 L673.0 427.3 L673.0 446.4"/>
<path d="M673.0 446.4 L707.4 446.4"/>
<path d="M673.0 446.4 L672.1 455.9 L673.4 457.0 L676.0 467.6 L677.0 477.1 L680.6 483.5 L683.2 485.6 L685.2 493.0 L685.1 520.6"/>
<path d="M677.5 477.4 L704.1 477.1 L706.1 479.5"/>
<path d="M685.1 520.6 L714.5 520.6 L713.0 525.9 L717.4 525.9"/>
<path d="M685.1 520.6 L686.3 532.3 L686.0 550.9 L688.9 551.9 L688.9 568.3 L692.1 576.8 L691.1 588.4 L690.1 592.7"/>
<path d="M688.9 557.7 L707.8 557.7"/>
<path d="M686.0 550.9 L679.3 548.2 L672.1 548.7 L668.1 549.8 L662.9 547.1 L655.0 543.9 L649.7 541.2 L649.7 520.6 L629.7 520.6"/>
<path d="M630.0 515.3 L629.7 520.6 L629.6 568.3 L606.2 568.3 L606.8 570.6"/>
<path d="M707.8 557.7 L708.2 563.0 L704.9 578.9 L717.2 578.9 L718.1 587.4"/>
<path d="M727.3 536.5 L725.5 569.4 L726.0 586.9"/>
<path d="M744.4 536.5 L747.2 559.3 L748.3 578.9"/>
<path d="M731.9 586.3 L731.2 578.9 L748.3 578.9 L749.3 582.1 L766.8 583.5 L767.7 585.7 L771.4 581.9"/>
<path d="M713.5 536.5 L760.8 536.5"/>
<path d="M752.8 536.5 L754.9 532.3 L760.8 528.5 L768.1 524.8 L770.2 519.6"/>
<path d="M718.7 520.6 L728.3 520.6 L728.3 518.7 L757.0 519.5 L770.2 519.6 L808.4 520.1"/>
<path d="M760.8 536.5 L759.2 539.7 L762.1 542.3 L766.8 551.3 L771.4 557.7 L774.0 567.2 L775.3 568.0"/>
<path d="M760.8 536.5 L766.1 534.4 L774.3 534.9 L775.1 535.4 L776.1 538.4 L783.4 538.6 L790.8 548.5"/>
<path d="M757.0 519.5 L764.1 513.2 L768.3 509.6 L773.3 512.6 L779.2 510.0 L781.5 503.6 L784.5 499.4 L788.7 496.2 L792.1 489.3 L796.2 490.7 L797.7 493.0 L800.7 496.2 L799.0 500.5 L805.6 505.2"/>
<path d="M777.8 486.5 L808.9 486.5 L808.9 499.8 L813.8 499.9"/>
<path d="M777.8 486.5 L777.8 459.1"/>
<path d="M784.6 486.5 L784.6 492.0 L791.1 488.3 L796.2 490.7"/>
<path d="M777.8 476.7 L775.6 486.7 L770.0 492.0 L766.8 498.3 L764.1 500.2 L758.2 497.3 L751.6 493.0 L749.5 493.0 L745.7 497.3 L742.4 504.7 L738.5 505.2 L731.2 505.8 L728.0 505.8 L725.3 514.6 L721.2 515.3"/>
<path d="M764.1 500.2 L766.1 507.9 L768.3 509.6"/>
<path d="M749.5 493.0 L749.5 465.5"/>
<path d="M731.8 464.8 L749.5 465.5 L758.5 465.5"/>
<path d="M731.7 464.8 L731.7 490.4 L730.9 499.4 L728.6 504.7 L728.0 505.8"/>
<path d="M711.3 457.0 L729.9 457.0"/>
<path d="M707.4 446.4 L708.2 454.9 L711.3 457.0 L714.5 464.4 L708.2 470.8 L706.1 479.5 L705.6 483.5 L710.9 494.1 L714.1 496.2 L713.2 502.6 L718.7 512.1 L721.2 515.3 L718.7 520.6 L717.4 525.9 L713.5 536.5 L711.5 541.8 L708.2 550.3 L707.8 557.7"/>
<path d="M707.4 446.4 L707.2 443.2 L702.3 436.9 L697.4 433.1 L697.0 424.1 L700.3 418.8 L700.3 412.9 L701.7 411.9"/>
<path d="M712.7 413.9 L722.0 419.9 L728.0 421.0 L729.9 426.8 L731.2 429.4"/>
<path d="M782.8 459.4 L782.8 462.3 L811.8 462.3 L816.1 469.1 L813.2 473.2 L812.8 477.1 L815.7 481.4 L811.5 485.6 L808.9 486.5"/>
<path d="M816.1 469.1 L821.3 472.9"/>
<path d="M825.0 430.4 L824.6 441.1 L825.6 445.3 L825.5 454.4 L824.0 461.8 L824.0 469.7 L823.0 472.9"/>
<path d="M837.1 430.4 L836.5 435.8 L833.5 441.1 L831.2 446.4 L830.2 454.6"/>
<path d="M825.5 454.4 L838.4 454.9 L841.1 453.0"/>
<path d="M824.0 461.8 L837.9 462.1 L837.9 463.4 L839.1 467.6"/>
<path d="M835.1 462.1 L834.8 469.5"/>
<path d="M842.4 451.0 L840.4 445.3 L839.9 427.3 L844.3 422.0 L847.0 412.5 L852.0 404.4 L854.2 407.4 L858.2 405.5 L861.5 408.6 L861.5 421.0 L863.7 427.3 L866.7 431.6"/>
<path d="M804.9 439.0 L812.1 432.1 L816.1 430.5 L837.1 430.4"/>
<path d="M606.8 570.6 L616.8 582.6 L620.1 593.2 L629.0 600.4 L632.1 592.3 L640.5 591.9 L645.1 599.0 L647.7 607.5 L653.0 616.0 L655.6 627.7 L661.5 631.4 L668.4 632.4"/>
<path d="M606.8 570.6 L595.8 570.6 L595.8 575.4 L576.9 575.4 L552.2 563.0 L552.9 560.7 L537.1 562.7"/>
<path d="M381.9 169.2 L381.9 268.3 L392.6 270.4 L403.1 283.2 L409.7 277.3 L416.3 273.6 L419.5 278.9 L430.1 288.5 L439.9 306.5 L452.4 315.0 L451.1 324.5"/>
<path d="M701.7 411.9 L706.9 406.6 L713.5 401.4 L718.1 398.7 L720.7 394.5 L724.7 392.3 L727.3 388.6 L733.2 390.2 L738.5 390.8 L741.8 396.6 L744.4 399.2 L749.0 399.2 L750.3 406.1 L751.3 410.4 L751.0 414.6 L748.3 411.9 L741.8 413.0 L737.2 415.1 L732.6 414.6 L730.6 410.9 L727.3 409.3 L729.3 404.5 L724.7 406.6 L720.1 410.9 L712.8 413.5 L709.5 410.4 L707.6 410.9 L701.7 411.9"/>
<path d="M731.2 463.9 L729.9 457.0 L729.9 447.5 L731.9 439.0 L733.2 432.1 L735.5 427.3 L729.3 435.3 L731.2 429.4 L735.2 423.1 L738.5 422.0 L744.4 419.9 L750.0 422.0 L748.3 423.1 L745.7 427.9 L744.4 432.6 L740.4 433.7 L738.5 441.1 L739.1 447.5 L740.1 454.9 L737.8 462.3 L734.5 466.0 L731.2 463.9"/>
<path d="M750.0 422.0 L754.9 425.2 L758.9 428.4 L759.5 431.6 L759.2 437.9 L755.6 444.3 L758.9 441.6 L762.1 440.6 L765.1 451.7 L770.0 447.5 L770.0 440.0 L772.7 434.7 L770.7 427.9 L775.3 434.2 L781.2 435.8 L782.5 431.6 L779.2 425.2 L776.0 420.4 L770.0 418.8 L764.1 418.3 L758.2 417.2 L754.3 416.7 L751.0 414.6"/>
<path d="M760.2 421.0 L768.1 420.4 L770.7 424.1 L765.4 424.1 L760.2 421.0"/>
<path d="M765.1 451.7 L764.8 455.9 L762.1 458.6 L760.8 461.2"/>
<path d="M758.5 465.5 L763.5 467.6 L770.0 467.6 L777.9 462.3 L782.5 459.6 L788.5 453.3 L785.8 453.3 L779.9 455.9 L774.6 455.4 L769.4 459.1 L764.8 462.3 L760.8 461.2 L758.5 465.5"/>
<path d="M787.5 449.1 L782.5 448.5 L785.2 444.8 L794.4 441.6 L800.9 441.1 L804.9 439.0 L806.2 442.2 L806.2 446.4 L800.9 448.5 L795.0 448.0 L787.5 449.1"/>
</g>
<g clip-path="url(#ax)" fill="none" stroke-width="1" shape-rendering="crispEdges">
<path stroke="#ffff00" d="M485.3 377.5 L728.6 377.5 L768.1 430.5 L768.1 451.7 L761.5 462.3 L768.1 462.3 L787.8 441.1 L799.6 441.1 L807.5 430.5 L840.4 430.5 L840.4 419.9 L853.6 398.7 L860.1 398.7 L866.7 409.3 L866.7 419.9 L873.3 430.5 L873.3 441.1 L847.0 451.7 L853.6 472.9 L827.3 483.5 L814.1 515.3 L814.1 536.5 L774.6 578.9 L787.8 642.5 L768.1 642.5 L754.9 600.1 L695.7 600.1 L676.0 610.7 L669.4 642.5 L654.6 629.8 L643.1 600.1 L623.4 600.1 L610.2 578.9 L577.4 578.9 L518.2 557.7 L485.3 483.5 L485.3 377.5"/>
<path stroke="#ffff00" d="M274.9 144.3 L380.1 165.5 L380.1 260.9 L399.8 271.5 L419.5 271.5 L452.4 313.9 L452.4 335.1 L439.3 335.1 L426.1 324.5 L386.7 282.1 L347.2 271.5 L340.6 282.1 L320.9 282.1 L294.6 313.9 L281.4 303.3 L261.7 324.5 L196.0 356.3 L196.0 335.1 L261.7 303.3 L268.3 292.7 L248.6 292.7 L222.3 271.5 L215.7 282.1 L202.5 271.5 L215.7 260.9 L209.1 250.3 L235.4 229.1 L209.1 229.1 L196.0 207.9 L222.3 197.3 L209.1 186.7 L209.1 176.1 L274.9 144.3"/>
<path stroke="#00ffff" d="M373.5 165.5 L472.1 154.9 L886.4 260.9 L912.7 313.9 L939.0 335.1 L965.3 398.7 L958.8 419.9 L932.5 409.3 L873.3 451.7 L860.1 419.9 L860.1 409.3 L853.6 409.3 L840.4 430.5 L814.1 430.5 L787.8 451.7 L759.5 417.8 L702.3 388.1 L491.9 388.1 L485.3 398.7 L459.0 372.2 L432.7 345.7 L426.1 324.5 L445.8 324.5 L445.8 313.9 L419.5 282.1 L404.4 282.1 L373.5 271.5 L373.5 165.5"/>
</g>
<g shape-rendering="crispEdges" stroke="#000" stroke-width="1" fill="none">
<rect x="156.5" y="112.5" width="822" height="689"/>
</g>
<g shape-rendering="crispEdges">
<rect x="1010" y="790.25" width="42" height="11.35" fill="#000080"/>
<rect x="1010" y="779.50" width="42" height="11.35" fill="#000092"/>
<rect x="1010" y="768.75" width="42" height="11.35" fill="#0000a4"/>
<rect x="1010" y="758.00" width="42" height="11.35" fill="#0000b6"/>
<rect x="1010" y="747.25" width="42" height="11.35" fill="#0000c8"/>
<rect x="1010" y="736.50" width="42" height="11.35" fill="#0000da"/>
<rect x="1010" y="725.75" width="42" height="11.35" fill="#0000ed"/>
<rect x="1010" y="715.00" width="42" height="11.35" fill="#0000ff"/>
<rect x="1010" y="704.25" width="42" height="11.35" fill="#0000ff"/>
<rect x="1010" y="693.50" width="42" height="11.35" fill="#0010ff"/>
<rect x="1010" y="682.75" width="42" height="11.35" fill="#0020ff"/>
<rect x="1010" y="672.00" width="42" height="11.35" fill="#0030ff"/>
<rect x="1010" y="661.25" width="42" height="11.35" fill="#0040ff"/>
<rect x="1010" y="650.50" width="42" height="11.35" fill="#0050ff"/>
<rect x="1010" y="639.75" width="42" height="11.35" fill="#0060ff"/>
<rect x="1010" y="629.00" width="42" height="11.35" fill="#0070ff"/>
<rect x="1010" y="618.25" width="42" height="11.35" fill="#0084ff"/>
<rect x="1010" y="607.50" width="42" height="11.35" fill="#0094ff"/>
<rect x="1010" y="596.75" width="42" height="11.35" fill="#00a4ff"/>
<rect x="1010" y="586.00" width="42" height="11.35" fill="#00b4ff"/>
<rect x="1010" y="575.25" width="42" height="11.35" fill="#00c4ff"/>
<rect x="1010" y="564.50" width="42" height="11.35" fill="#00d4ff"/>
<rect x="1010" y="553.75" width="42" height="11.35" fill="#00e4f8"/>
<rect x="1010" y="543.00" width="42" height="11.35" fill="#0cf4eb"/>
<rect x="1010" y="532.25" width="42" height="11.35" fill="#19ffde"/>
<rect x="1010" y="521.50" width="42" height="11.35" fill="#26ffd1"/>
<rect x="1010" y="510.75" width="42" height="11.35" fill="#33ffc4"/>
<rect x="1010" y="500.00" width="42" height="11.35" fill="#40ffb7"/>
<rect x="1010" y="489.25" width="42" height="11.35" fill="#4dffaa"/>
<rect x="1010" y="478.50" width="42" height="11.35" fill="#5aff9d"/>
<rect x="1010" y="467.75" width="42" height="11.35" fill="#66ff90"/>
<rect x="1010" y="457.00" width="42" height="11.35" fill="#73ff83"/>
<rect x="1010" y="446.25" width="42" height="11.35" fill="#83ff73"/>
<rect x="1010" y="435.50" width="42" height="11.35" fill="#90ff66"/>
<rect x="1010" y="424.75" width="42" height="11.35" fill="#9dff5a"/>
<rect x="1010" y="414.00" width="42" height="11.35" fill="#aaff4d"/>
<rect x="1010" y="403.25" width="42" height="11.35" fill="#b7ff40"/>
<rect x="1010" y="392.50" width="42" height="11.35" fill="#c4ff33"/>
<rect x="1010" y="381.75" width="42" height="11.35" fill="#d1ff26"/>
<rect x="1010" y="371.00" width="42" height="11.35" fill="#deff19"/>
<rect x="1010" y="360.25" width="42" height="11.35" fill="#ebff0c"/>
<rect x="1010" y="349.50" width="42" height="11.35" fill="#f8f500"/>
<rect x="1010" y="338.75" width="42" height="11.35" fill="#ffe600"/>
<rect x="1010" y="328.00" width="42" height="11.35" fill="#ffd700"/>
<rect x="1010" y="317.25" width="42" height="11.35" fill="#ffc800"/>
<rect x="1010" y="306.50" width="42" height="11.35" fill="#ffb900"/>
<rect x="1010" y="295.75" width="42" height="11.35" fill="#ffab00"/>
<rect x="1010" y="285.00" width="42" height="11.35" fill="#ff9c00"/>
<rect x="1010" y="274.25" width="42" height="11.35" fill="#ff8900"/>
<rect x="1010" y="263.50" width="42" height="11.35" fill="#ff7a00"/>
<rect x="1010" y="252.75" width="42" height="11.35" fill="#ff6c00"/>
<rect x="1010" y="242.00" width="42" height="11.35" fill="#ff5d00"/>
<rect x="1010" y="231.25" width="42" height="11.35" fill="#ff4e00"/>
<rect x="1010" y="220.50" width="42" height="11.35" fill="#ff3f00"/>
<rect x="1010" y="209.75" width="42" height="11.35" fill="#ff3000"/>
<rect x="1010" y="199.00" width="42" height="11.35" fill="#ff2200"/>
<rect x="1010" y="188.25" width="42" height="11.35" fill="#ff1300"/>
<rect x="1010" y="177.50" width="42" height="11.35" fill="#ed0400"/>
<rect x="1010" y="166.75" width="42" height="11.35" fill="#da0000"/>
<rect x="1010" y="156.00" width="42" height="11.35" fill="#c80000"/>
<rect x="1010" y="145.25" width="42" height="11.35" fill="#b60000"/>
<rect x="1010" y="134.50" width="42" height="11.35" fill="#a40000"/>
<rect x="1010" y="123.75" width="42" height="11.35" fill="#920000"/>
<rect x="1010" y="113.00" width="42" height="11.35" fill="#800000"/>
<rect x="1010.5" y="113.5" width="42" height="688" fill="none" stroke="#000"/>
<path d="M1011 571.5 h6 M1052 571.5 h-6 M1011 342.5 h6 M1052 342.5 h-6 " stroke="#000" fill="none"/>
</g>
<text transform="translate(1058.0 120.3) scale(1.000 1.100)" font-size="20.5" text-anchor="start" class="s" xml:space="preserve">1</text>
<text transform="translate(1058.0 349.6) scale(1.000 1.100)" font-size="20.5" text-anchor="start" class="s" xml:space="preserve">0.95</text>
<text transform="translate(1058.0 579.0) scale(1.000 1.100)" font-size="20.5" text-anchor="start" class="s" xml:space="preserve">0.9</text>
<text transform="translate(1058.0 808.3) scale(1.000 1.100)" font-size="20.5" text-anchor="start" class="s" xml:space="preserve">0.85</text>
<text transform="translate(565.8 19.5) scale(1.000 0.860)" font-size="25" text-anchor="middle" stroke="#fff" stroke-width="0.2" xml:space="preserve">Shadow OKC 2 LP Coverage Contours</text>
<text transform="translate(565.8 46.0) scale(1.000 0.860)" font-size="25" text-anchor="middle" stroke="#fff" stroke-width="0.2" xml:space="preserve">05/16/25</text>
<text transform="translate(565.8 72.5) scale(1.000 0.860)" font-size="25" text-anchor="middle" stroke="#fff" stroke-width="0.2" xml:space="preserve">Week 2366 Day 5</text>
<text transform="translate(221.1 822.5) scale(0.930 1.000)" font-size="22" text-anchor="start" stroke="#fff" stroke-width="0.2" letter-spacing="1" xml:space="preserve">-160</text>
<text transform="translate(352.7 822.5) scale(0.930 1.000)" font-size="22" text-anchor="start" stroke="#fff" stroke-width="0.2" letter-spacing="1" xml:space="preserve">-140</text>
<text transform="translate(484.2 822.5) scale(0.930 1.000)" font-size="22" text-anchor="start" stroke="#fff" stroke-width="0.2" letter-spacing="1" xml:space="preserve">-120</text>
<text transform="translate(615.7 822.5) scale(0.930 1.000)" font-size="22" text-anchor="start" stroke="#fff" stroke-width="0.2" letter-spacing="1" xml:space="preserve">-100</text>
<text transform="translate(747.2 822.5) scale(0.930 1.000)" font-size="22" text-anchor="start" stroke="#fff" stroke-width="0.2" letter-spacing="1" xml:space="preserve">-80</text>
<text transform="translate(878.7 822.5) scale(0.930 1.000)" font-size="22" text-anchor="start" stroke="#fff" stroke-width="0.2" letter-spacing="1" xml:space="preserve">-60</text>
<text transform="translate(151.3 806.5) scale(0.930 1.000)" font-size="22" text-anchor="end" stroke="#fff" stroke-width="0.2" letter-spacing="1" xml:space="preserve">10</text>
<text transform="translate(151.3 700.5) scale(0.930 1.000)" font-size="22" text-anchor="end" stroke="#fff" stroke-width="0.2" letter-spacing="1" xml:space="preserve">20</text>
<text transform="translate(151.3 594.5) scale(0.930 1.000)" font-size="22" text-anchor="end" stroke="#fff" stroke-width="0.2" letter-spacing="1" xml:space="preserve">30</text>
<text transform="translate(151.3 488.5) scale(0.930 1.000)" font-size="22" text-anchor="end" stroke="#fff" stroke-width="0.2" letter-spacing="1" xml:space="preserve">40</text>
<text transform="translate(151.3 382.5) scale(0.930 1.000)" font-size="22" text-anchor="end" stroke="#fff" stroke-width="0.2" letter-spacing="1" xml:space="preserve">50</text>
<text transform="translate(151.3 276.5) scale(0.930 1.000)" font-size="22" text-anchor="end" stroke="#fff" stroke-width="0.2" letter-spacing="1" xml:space="preserve">60</text>
<text transform="translate(151.3 170.5) scale(0.930 1.000)" font-size="22" text-anchor="end" stroke="#fff" stroke-width="0.2" letter-spacing="1" xml:space="preserve">70</text>
<text transform="translate(570.0 843.0) scale(1.000 0.800)" font-size="18.6" text-anchor="middle" font-weight="bold" xml:space="preserve">Longitude</text>
<text transform="translate(110.3 455.3) rotate(-90) scale(1 0.8)" font-size="18.6" font-weight="bold" text-anchor="middle">Latitude</text>
<text transform="translate(162.2 572.5) scale(1.000 0.900)" font-size="15" text-anchor="start" xml:space="preserve">Percent| CONUS   | Alaska |Canada</text>
<text transform="translate(162.2 593.8) scale(1.000 0.900)" font-size="15" text-anchor="start" xml:space="preserve"> Avail.|Coverage |Coverage|Coverage</text>
<text transform="translate(162.2 603.0) scale(1.000 0.900)" font-size="15" text-anchor="start" xml:space="preserve">-----------------------------------</text>
<text transform="translate(162.2 614.8) scale(1.000 0.900)" font-size="15" text-anchor="start" xml:space="preserve">  99   | 100.00% | 100.00% | 100.00%</text>
<text transform="translate(162.2 635.2) scale(1.000 0.900)" font-size="15" text-anchor="start" xml:space="preserve">  99.9 | 100.00% | 100.00% | 100.00%</text>
<text transform="translate(162.2 655.6) scale(1.000 0.900)" font-size="15" text-anchor="start" xml:space="preserve">  100  | 100.00% | 100.00% | 100.00%</text>
<text x="187.5" y="747" font-size="12.5" textLength="161.5" lengthAdjust="spacingAndGlyphs">W.J.H. FAA Technical Center</text>
<text x="187.5" y="759.7" font-size="12.5" textLength="83.5" lengthAdjust="spacingAndGlyphs">WAAS Test Team</text>
</svg></body></html>
